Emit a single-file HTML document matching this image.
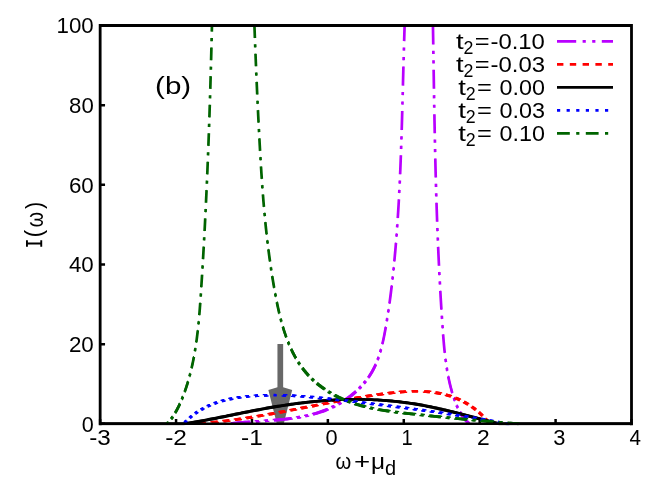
<!DOCTYPE html>
<html><head><meta charset="utf-8"><title>plot</title>
<style>html,body{margin:0;padding:0;background:#fff}svg{display:block}svg{will-change:transform}text{font-family:"Liberation Sans",sans-serif;fill:#000}</style></head><body>
<svg width="664" height="498" viewBox="0 0 664 498">
<rect width="664" height="498" fill="#fff"/>
<defs><clipPath id="c"><rect x="100.15" y="25.50" width="531.35" height="399.70"/></clipPath></defs>
<g fill="#686868"><rect x="277.45" y="344" width="5.7" height="46"/><path d="M277.45 387.3L268.40 390.1L276.90 424L283.70 424L292.20 390.1L283.15 387.3Z"/></g>
<path d="M100.15 423.80 v-4.9M176.06 423.80 v-4.9M251.96 423.80 v-4.9M327.87 423.80 v-4.9M403.78 423.80 v-4.9M479.69 423.80 v-4.9M555.59 423.80 v-4.9M631.50 423.80 v-4.9M100.15 423.80 h4.9M100.15 344.14 h4.9M100.15 264.48 h4.9M100.15 184.82 h4.9M100.15 105.16 h4.9M100.15 25.50 h4.9" stroke="#000" stroke-width="2.5" fill="none"/>
<g clip-path="url(#c)" fill="none" stroke-width="2.7">
<path d="M225.30 423.80L225.78 423.80L225.97 423.80M232.09 423.45L233.45 423.30L234.91 423.14L236.37 422.99L237.83 422.84L239.30 422.70L240.78 422.57L242.25 422.44L243.73 422.32L245.22 422.20L246.71 422.09L248.20 421.98L249.69 421.87L249.89 421.85M255.93 421.44L257.19 421.36L258.70 421.26L258.95 421.24M265.00 420.84L266.26 420.76L267.77 420.65L268.02 420.64M274.01 420.19L275.35 420.08L276.86 419.95L278.37 419.82L279.89 419.68L281.40 419.54L282.91 419.39L284.42 419.23L285.92 419.07L287.43 418.89L288.93 418.71L290.43 418.52L291.52 418.38M297.14 417.55L298.40 417.35L299.88 417.09L299.90 417.09M305.31 416.05L306.75 415.74L307.95 415.47M313.13 414.19L314.49 413.82L315.92 413.41L317.35 412.99L318.78 412.54L320.19 412.08L321.60 411.61L323.01 411.11L324.40 410.59L325.80 410.06L327.18 409.51L327.67 409.30M332.17 407.31L333.09 406.87L334.37 406.24M338.63 403.97L339.70 403.36L340.70 402.78M344.72 400.25L345.62 399.65L346.85 398.80L348.07 397.94L349.27 397.05L350.46 396.15L351.63 395.22L352.79 394.28L353.93 393.33L355.06 392.35L355.87 391.63M359.27 388.39L360.08 387.57L360.90 386.70M364.04 383.18L364.68 382.41L365.55 381.34M368.41 377.50L369.10 376.49L369.91 375.26L370.70 374.01L371.47 372.75L372.21 371.47L372.92 370.18L373.61 368.87L374.28 367.55L374.92 366.21L375.53 364.86L375.69 364.51M377.66 359.68L378.13 358.41L378.57 357.18M380.23 352.02L380.59 350.77L380.99 349.37M382.38 343.94L382.62 342.92L382.96 341.43L383.29 339.94L383.61 338.45L383.92 336.95L384.22 335.45L384.51 333.96L384.79 332.45L385.07 330.95L385.35 329.45L385.61 327.95L385.79 326.94M386.78 321.14L386.97 319.98L387.21 318.49L387.26 318.22M388.17 312.36L388.37 311.05L388.59 309.56L388.61 309.41M389.46 303.50L389.65 302.15L389.85 300.67L390.05 299.19L390.24 297.71L390.44 296.23L390.63 294.75L390.81 293.27L391.00 291.79L391.18 290.31L391.36 288.83L391.54 287.35L391.72 285.87L391.75 285.55M392.44 279.51L392.56 278.48L392.72 276.99L392.78 276.48M393.42 270.40L393.56 269.09L393.71 267.61L393.73 267.36M394.33 261.26L394.43 260.18L394.57 258.69L394.71 257.21L394.85 255.72L394.98 254.23L395.12 252.75L395.25 251.26L395.38 249.77L395.51 248.28L395.63 246.79L395.76 245.30L395.88 243.81L395.96 242.83M396.45 236.66L396.55 235.36L396.66 233.87L396.69 233.56M397.14 227.36L397.24 225.90L397.35 224.41L397.36 224.26M397.77 218.04L397.84 216.93L397.94 215.44L398.03 213.94L398.13 212.44L398.22 210.95L398.31 209.45L398.40 207.95L398.49 206.45L398.58 204.96L398.66 203.46L398.75 201.96L398.83 200.46L398.89 199.31M399.23 193.04L399.28 191.97L399.36 190.47L399.38 189.91M399.69 183.63L399.74 182.46L399.81 180.96L399.84 180.48M400.12 174.19L400.17 172.95L400.23 171.45L400.30 169.95L400.36 168.45L400.42 166.95L400.48 165.44L400.54 163.94L400.60 162.44L400.66 160.94L400.72 159.43L400.77 157.93L400.83 156.43L400.87 155.28M401.10 148.96L401.13 147.91L401.18 146.41L401.20 145.80M401.41 139.48L401.45 138.39L401.50 136.89L401.51 136.31M401.71 129.98L401.74 128.87L401.79 127.36L401.83 125.86L401.88 124.36L401.92 122.85L401.96 121.35L402.01 119.85L402.05 118.34L402.09 116.84L402.13 115.34L402.18 113.84L402.22 112.33L402.25 110.97M402.43 104.63L402.46 103.32L402.50 101.81L402.51 101.46M402.68 95.11L402.71 93.80L402.75 92.30L402.76 91.94M402.92 85.59L402.96 84.30L402.99 82.80L403.03 81.30L403.07 79.79L403.11 78.29L403.15 76.79L403.19 75.30L403.23 73.80L403.27 72.30L403.31 70.80L403.35 69.30L403.39 67.80L403.42 66.53M403.59 60.18L403.63 58.81L403.67 57.32L403.68 57.00M403.86 50.64L403.90 49.34L403.94 47.84L403.95 47.47M404.14 41.11L404.18 39.87L404.22 38.38L404.27 36.88L404.32 35.39L404.36 33.90L404.41 32.41L404.46 30.91L404.51 29.42L404.56 27.93L404.61 26.44L404.64 25.50" stroke="#b900ff"/>
<path d="M230.76 423.45L230.76 422.12L230.76 422.12L232.12 421.97L233.58 421.81L235.04 421.66L236.50 421.51L237.97 421.37L239.44 421.24L240.92 421.11L242.40 420.99L243.89 420.87L245.37 420.76L246.86 420.64L248.36 420.54L248.56 420.52L249.89 420.52L249.89 421.85L251.22 421.85L251.22 423.19L251.22 423.19L251.02 423.20L249.53 423.31L248.04 423.42L246.55 423.53L245.07 423.65L243.59 423.78L242.11 423.90L240.64 424.04L239.17 424.18L237.70 424.32L236.24 424.47L234.79 424.63L233.43 424.78L232.09 424.78L232.09 423.45ZM254.59 421.44L254.59 420.11L254.59 420.11L255.86 420.02L257.36 419.92L257.62 419.91L258.95 419.91L258.95 421.24L260.29 421.24L260.29 422.58L260.29 422.58L260.04 422.60L258.53 422.70L257.27 422.78L255.93 422.78L255.93 421.44ZM263.67 420.84L263.67 419.51L263.67 419.51L264.92 419.42L266.44 419.32L266.68 419.30L268.02 419.30L268.02 420.64L269.35 420.64L269.35 421.97L269.35 421.97L269.11 421.99L267.59 422.10L266.34 422.18L265.00 422.18L265.00 420.84ZM272.68 420.19L272.68 418.86L272.68 418.86L274.02 418.75L275.53 418.62L277.04 418.49L278.56 418.35L280.07 418.21L281.58 418.06L283.09 417.90L284.59 417.74L286.10 417.56L287.60 417.38L289.10 417.19L290.19 417.05L291.52 417.05L291.52 418.38L292.85 418.38L292.85 419.71L292.85 419.71L291.76 419.85L290.26 420.04L288.76 420.22L287.25 420.40L285.75 420.56L284.24 420.72L282.73 420.87L281.21 421.01L279.70 421.15L278.19 421.28L276.67 421.41L275.34 421.52L274.01 421.52L274.01 420.19ZM295.82 417.55L295.82 416.24L295.82 416.24L297.08 416.03L298.56 415.78L298.58 415.77L299.90 415.77L299.90 417.09L301.21 417.09L301.21 418.41L301.21 418.41L301.20 418.41L299.71 418.66L298.46 418.87L297.14 418.87L297.14 417.55ZM304.00 416.05L304.00 414.74L304.00 414.74L305.45 414.43L306.65 414.17L307.95 414.17L307.95 415.47L309.26 415.47L309.26 416.78L309.26 416.78L308.06 417.05L306.61 417.36L305.31 417.36L305.31 416.05ZM311.84 414.19L311.84 412.91L311.84 412.91L313.21 412.54L314.64 412.13L316.07 411.70L317.49 411.26L318.91 410.80L320.32 410.32L321.72 409.82L323.12 409.31L324.51 408.77L325.89 408.22L326.38 408.02L327.67 408.02L327.67 409.30L328.95 409.30L328.95 410.59L328.95 410.59L328.46 410.79L327.08 411.34L325.69 411.88L324.29 412.39L322.89 412.89L321.48 413.37L320.06 413.83L318.64 414.27L317.21 414.70L315.78 415.11L314.42 415.48L313.13 415.48L313.13 414.19ZM330.92 407.31L330.92 406.05L330.92 406.05L331.83 405.61L333.11 404.98L334.37 404.98L334.37 406.24L335.62 406.24L335.62 407.50L335.62 407.50L334.35 408.13L333.43 408.56L332.17 408.56L332.17 407.31ZM337.38 403.97L337.38 402.73L337.38 402.73L338.46 402.12L339.46 401.53L340.70 401.53L340.70 402.78L341.94 402.78L341.94 404.02L341.94 404.02L340.94 404.60L339.87 405.22L338.63 405.22L338.63 403.97ZM343.51 400.25L343.51 399.04L343.51 399.04L344.41 398.44L345.64 397.59L346.86 396.73L348.06 395.84L349.25 394.94L350.42 394.01L351.58 393.07L352.72 392.12L353.85 391.14L354.66 390.42L355.87 390.42L355.87 391.63L357.08 391.63L357.08 392.84L357.08 392.84L356.27 393.56L355.14 394.54L354.00 395.49L352.84 396.43L351.67 397.36L350.48 398.26L349.28 399.14L348.06 400.01L346.83 400.86L345.93 401.46L344.72 401.46L344.72 400.25ZM358.10 388.39L358.10 387.22L358.10 387.22L358.91 386.40L359.73 385.53L360.90 385.53L360.90 386.70L362.07 386.70L362.07 387.87L362.07 387.87L361.25 388.74L360.44 389.56L359.27 389.56L359.27 388.39ZM362.90 383.18L362.90 382.04L362.90 382.04L363.54 381.27L364.41 380.20L365.55 380.20L365.55 381.34L366.69 381.34L366.69 382.48L366.69 382.48L365.82 383.55L365.18 384.32L364.04 384.32L364.04 383.18ZM367.34 377.50L367.34 376.43L367.34 376.43L368.03 375.43L368.84 374.20L369.63 372.95L370.40 371.69L371.14 370.41L371.86 369.11L372.55 367.81L373.21 366.48L373.85 365.15L374.47 363.80L374.63 363.45L375.69 363.45L375.69 364.51L376.76 364.51L376.76 365.58L376.76 365.58L376.60 365.93L375.98 367.28L375.34 368.62L374.68 369.94L373.99 371.25L373.27 372.54L372.53 373.82L371.77 375.08L370.98 376.33L370.16 377.56L369.47 378.56L368.41 378.56L368.41 377.50ZM376.71 359.68L376.71 358.73L376.71 358.73L377.18 357.46L377.61 356.23L378.57 356.23L378.57 357.18L379.52 357.18L379.52 358.14L379.52 358.14L379.09 359.36L378.62 360.64L377.66 360.64L377.66 359.68ZM379.34 352.02L379.34 351.14L379.34 351.14L379.71 349.88L380.10 348.49L380.99 348.49L380.99 349.37L381.87 349.37L381.87 350.26L381.87 350.26L381.48 351.65L381.11 352.91L380.23 352.91L380.23 352.02ZM381.60 343.94L381.60 343.17L381.60 343.17L381.85 342.15L382.19 340.66L382.51 339.17L382.83 337.68L383.14 336.18L383.44 334.68L383.74 333.18L384.02 331.68L384.30 330.18L384.57 328.68L384.84 327.18L385.02 326.17L385.79 326.17L385.79 326.94L386.56 326.94L386.56 327.71L386.56 327.71L386.39 328.73L386.12 330.23L385.85 331.73L385.57 333.23L385.28 334.73L384.99 336.23L384.69 337.73L384.38 339.22L384.06 340.72L383.73 342.21L383.39 343.69L383.15 344.72L382.38 344.72L382.38 343.94ZM386.08 321.14L386.08 320.44L386.08 320.44L386.27 319.27L386.51 317.78L386.55 317.52L387.26 317.52L387.26 318.22L387.96 318.22L387.96 318.93L387.96 318.93L387.92 319.19L387.67 320.68L387.48 321.84L386.78 321.84L386.78 321.14ZM387.50 312.36L387.50 311.69L387.50 311.69L387.70 310.37L387.92 308.89L387.94 308.74L388.61 308.74L388.61 309.41L389.29 309.41L389.29 310.09L389.29 310.09L389.27 310.24L389.04 311.72L388.85 313.03L388.17 313.03L388.17 312.36ZM388.84 303.50L388.84 302.87L388.84 302.87L389.03 301.53L389.23 300.05L389.43 298.57L389.62 297.09L389.82 295.61L390.01 294.13L390.19 292.65L390.38 291.17L390.56 289.69L390.74 288.21L390.92 286.73L391.09 285.25L391.13 284.92L391.75 284.92L391.75 285.55L392.37 285.55L392.37 286.17L392.37 286.17L392.34 286.49L392.16 287.97L391.98 289.45L391.80 290.93L391.62 292.41L391.44 293.89L391.25 295.37L391.06 296.85L390.86 298.33L390.67 299.81L390.47 301.29L390.27 302.77L390.08 304.12L389.46 304.12L389.46 303.50ZM391.87 279.51L391.87 278.93L391.87 278.93L391.99 277.90L392.15 276.42L392.21 275.91L392.78 275.91L392.78 276.48L393.35 276.48L393.35 277.05L393.35 277.05L393.29 277.57L393.13 279.05L393.02 280.08L392.44 280.08L392.44 279.51ZM392.88 270.40L392.88 269.86L392.88 269.86L393.01 268.54L393.16 267.06L393.19 266.81L393.73 266.81L393.73 267.36L394.28 267.36L394.28 267.91L394.28 267.91L394.25 268.15L394.10 269.64L393.97 270.95L393.42 270.95L393.42 270.40ZM393.83 261.26L393.83 260.76L393.83 260.76L393.93 259.68L394.07 258.19L394.21 256.71L394.35 255.22L394.48 253.73L394.62 252.24L394.75 250.76L394.88 249.27L395.01 247.78L395.13 246.29L395.26 244.80L395.38 243.31L395.46 242.33L395.96 242.33L395.96 242.83L396.46 242.83L396.46 243.33L396.46 243.33L396.38 244.31L396.26 245.80L396.13 247.29L396.01 248.78L395.88 250.27L395.75 251.76L395.62 253.25L395.48 254.73L395.35 256.22L395.21 257.71L395.07 259.20L394.93 260.68L394.83 261.76L394.33 261.76L394.33 261.26ZM396.00 236.66L396.00 236.20L396.00 236.20L396.10 234.91L396.21 233.41L396.23 233.11L396.69 233.11L396.69 233.56L397.14 233.56L397.14 234.02L397.14 234.02L397.12 234.32L397.00 235.81L396.91 237.11L396.45 237.11L396.45 236.66ZM396.71 227.36L396.71 226.93L396.71 226.93L396.81 225.47L396.92 223.98L396.93 223.83L397.36 223.83L397.36 224.26L397.79 224.26L397.79 224.69L397.79 224.69L397.77 224.84L397.67 226.33L397.57 227.79L397.14 227.79L397.14 227.36ZM397.39 218.04L397.39 217.65L397.39 217.65L397.46 216.55L397.56 215.05L397.65 213.55L397.74 212.06L397.84 210.56L397.93 209.06L398.02 207.57L398.10 206.07L398.19 204.57L398.28 203.07L398.36 201.57L398.44 200.08L398.51 198.92L398.89 198.92L398.89 199.31L399.28 199.31L399.28 199.69L399.28 199.69L399.21 200.85L399.13 202.34L399.05 203.84L398.96 205.34L398.87 206.84L398.78 208.34L398.70 209.83L398.60 211.33L398.51 212.83L398.42 214.32L398.32 215.82L398.23 217.32L398.16 218.42L397.77 218.42L397.77 218.04ZM398.88 193.04L398.88 192.70L398.88 192.70L398.94 191.62L399.01 190.12L399.04 189.56L399.38 189.56L399.38 189.91L399.73 189.91L399.73 190.25L399.73 190.25L399.70 190.81L399.62 192.31L399.57 193.38L399.23 193.38L399.23 193.04ZM399.37 183.63L399.37 183.31L399.37 183.31L399.43 182.14L399.49 180.64L399.52 180.16L399.84 180.16L399.84 180.48L400.16 180.48L400.16 180.80L400.16 180.80L400.13 181.28L400.06 182.78L400.01 183.95L399.69 183.95L399.69 183.63ZM399.83 174.19L399.83 173.91L399.83 173.91L399.89 172.67L399.95 171.17L400.01 169.67L400.08 168.16L400.14 166.66L400.20 165.16L400.26 163.66L400.32 162.16L400.37 160.65L400.43 159.15L400.49 157.65L400.55 156.14L400.59 155.00L400.87 155.00L400.87 155.28L401.15 155.28L401.15 155.56L401.15 155.56L401.11 156.71L401.06 158.21L401.00 159.72L400.94 161.22L400.88 162.72L400.82 164.22L400.76 165.73L400.70 167.23L400.64 168.73L400.58 170.23L400.52 171.74L400.45 173.24L400.40 174.48L400.12 174.48L400.12 174.19ZM400.84 148.96L400.84 148.71L400.84 148.71L400.88 147.66L400.93 146.16L400.95 145.55L401.20 145.55L401.20 145.80L401.46 145.80L401.46 146.05L401.46 146.05L401.44 146.66L401.38 148.16L401.35 149.21L401.10 149.21L401.10 148.96ZM401.18 139.48L401.18 139.24L401.18 139.24L401.21 138.15L401.26 136.65L401.28 136.08L401.51 136.08L401.51 136.31L401.75 136.31L401.75 136.55L401.75 136.55L401.73 137.12L401.69 138.63L401.65 139.71L401.41 139.71L401.41 139.48ZM401.49 129.98L401.49 129.77L401.49 129.77L401.53 128.65L401.57 127.15L401.62 125.64L401.66 124.14L401.70 122.64L401.75 121.13L401.79 119.63L401.83 118.13L401.88 116.63L401.92 115.12L401.96 113.62L402.00 112.12L402.04 110.76L402.25 110.76L402.25 110.97L402.47 110.97L402.47 111.19L402.47 111.19L402.43 112.55L402.39 114.05L402.35 115.55L402.31 117.06L402.27 118.56L402.22 120.06L402.18 121.57L402.14 123.07L402.09 124.57L402.05 126.08L402.01 127.58L401.96 129.08L401.93 130.20L401.71 130.20L401.71 129.98ZM402.22 104.63L402.22 104.43L402.22 104.43L402.26 103.11L402.30 101.61L402.31 101.25L402.51 101.25L402.51 101.46L402.71 101.46L402.71 101.66L402.71 101.66L402.70 102.02L402.66 103.52L402.63 104.83L402.43 104.83L402.43 104.63ZM402.48 95.11L402.48 94.91L402.48 94.91L402.51 93.60L402.55 92.10L402.56 91.74L402.76 91.74L402.76 91.94L402.96 91.94L402.96 92.14L402.96 92.14L402.95 92.50L402.91 94.00L402.88 95.31L402.68 95.31L402.68 95.11ZM402.72 85.59L402.72 85.39L402.72 85.39L402.76 84.10L402.79 82.60L402.83 81.09L402.87 79.59L402.91 78.09L402.95 76.59L402.99 75.09L403.03 73.60L403.07 72.10L403.11 70.60L403.15 69.10L403.19 67.60L403.22 66.33L403.42 66.33L403.42 66.53L403.62 66.53L403.62 66.73L403.62 66.73L403.59 68.00L403.55 69.50L403.51 71.00L403.47 72.50L403.43 74.00L403.39 75.50L403.35 77.00L403.31 78.50L403.27 80.00L403.23 81.50L403.20 83.00L403.16 84.50L403.12 85.79L402.92 85.79L402.92 85.59ZM403.38 60.18L403.38 59.97L403.38 59.97L403.42 58.60L403.46 57.11L403.47 56.79L403.68 56.79L403.68 57.00L403.89 57.00L403.89 57.21L403.89 57.21L403.88 57.52L403.84 59.02L403.80 60.38L403.59 60.38L403.59 60.18ZM403.64 50.64L403.64 50.42L403.64 50.42L403.68 49.12L403.72 47.62L403.73 47.25L403.95 47.25L403.95 47.47L404.17 47.47L404.17 47.68L404.17 47.68L404.16 48.06L404.11 49.55L404.08 50.86L403.86 50.86L403.86 50.64ZM403.90 41.11L403.90 40.87L403.90 40.87L403.94 39.63L403.99 38.14L404.03 36.64L404.08 35.15L404.13 33.66L404.17 32.17L404.22 30.68L404.27 29.18L404.32 27.69L404.37 26.20L404.40 25.26L404.64 25.26L404.64 25.50L404.88 25.50L404.88 25.74L404.88 25.74L404.85 26.68L404.80 28.17L404.75 29.66L404.70 31.15L404.65 32.64L404.60 34.14L404.55 35.63L404.51 37.12L404.46 38.61L404.42 40.11L404.38 41.35L404.14 41.35L404.14 41.11Z" fill="#b900ff" stroke="none"/>
<path d="M432.95 25.50L432.96 26.52L432.99 28.03L433.01 29.53L433.04 31.04L433.06 32.54L433.08 34.05L433.11 35.55L433.13 37.06L433.16 38.56L433.18 40.07L433.20 41.57L433.23 43.08L433.25 44.48M433.35 50.81L433.37 52.10L433.39 53.60L433.40 53.98M433.50 60.31L433.52 61.61L433.54 63.12L433.54 63.48M433.64 69.82L433.66 71.12L433.69 72.62L433.71 74.12L433.74 75.62L433.76 77.12L433.78 78.62L433.81 80.12L433.83 81.62L433.86 83.12L433.88 84.62L433.90 86.12L433.93 87.62L433.95 88.82M434.05 95.15L434.08 96.62L434.10 98.12L434.11 98.32M434.21 104.66L434.24 106.11L434.27 107.60L434.27 107.82M434.38 114.16L434.41 115.59L434.44 117.09L434.46 118.58L434.49 120.08L434.52 121.58L434.55 123.07L434.58 124.57L434.61 126.07L434.63 127.57L434.66 129.06L434.69 130.56L434.72 132.05L434.74 133.16M434.87 139.49L434.90 140.53L434.93 142.03L434.94 142.66M435.08 148.99L435.10 150.01L435.13 151.50L435.15 152.15M435.29 158.48L435.33 159.98L435.36 161.47L435.40 162.97L435.44 164.47L435.47 165.96L435.51 167.46L435.55 168.95L435.58 170.45L435.62 171.94L435.66 173.44L435.70 174.93L435.74 176.43L435.77 177.47M435.94 183.79L435.97 184.90L436.01 186.40L436.03 186.95M436.21 193.27L436.24 194.38L436.29 195.87L436.31 196.43M436.50 202.75L436.54 203.85L436.58 205.34L436.63 206.84L436.68 208.34L436.73 209.83L436.78 211.33L436.83 212.82L436.88 214.32L436.93 215.82L436.99 217.31L437.04 218.81L437.09 220.31L437.14 221.68M437.37 227.99L437.42 229.29L437.48 230.78L437.49 231.14M437.74 237.44L437.80 238.77L437.86 240.26L437.87 240.59M438.13 246.89L438.19 248.25L438.26 249.75L438.32 251.25L438.39 252.75L438.45 254.25L438.52 255.74L438.59 257.24L438.66 258.74L438.73 260.24L438.80 261.74L438.87 263.24L438.94 264.74L438.99 265.74M439.30 272.02L439.36 273.24L439.44 274.74L439.46 275.15M439.78 281.42L439.86 282.74L439.94 284.24L439.95 284.55M440.30 290.81L440.38 292.25L440.47 293.75L440.55 295.25L440.64 296.76L440.73 298.26L440.82 299.76L440.91 301.27L441.00 302.77L441.09 304.27L441.18 305.78L441.28 307.28L441.37 308.78L441.42 309.55M441.82 315.78L441.89 316.81L441.99 318.31L442.02 318.90M442.45 325.12L442.53 326.35L442.64 327.85L442.66 328.23M443.11 334.43L443.22 335.89L443.34 337.39L443.46 338.90L443.58 340.41L443.71 341.91L443.84 343.41L443.97 344.92L444.11 346.42L444.25 347.92L444.40 349.42L444.55 350.92L444.71 352.42L444.76 352.86M445.46 358.89L445.65 360.38L445.85 361.86L445.85 361.88M446.72 367.78L446.88 368.78L447.12 370.25L447.20 370.69M448.25 376.43L448.48 377.58L448.79 379.04L449.10 380.50L449.42 381.95L449.76 383.40L450.10 384.84L450.46 386.29L450.83 387.72L451.22 389.16L451.61 390.59L452.02 392.02L452.27 392.85M453.91 398.03L454.27 399.09L454.76 400.49L454.78 400.56M456.68 405.46L457.11 406.48L457.71 407.82M460.00 412.30L460.69 413.49L461.48 414.74L462.30 415.96L463.16 417.16L464.07 418.34L465.02 419.48L466.03 420.59L467.08 421.66L468.19 422.71L468.94 423.36" stroke="#b900ff"/>
<path d="M432.82 25.50L432.82 25.63L432.82 25.63L432.84 26.65L432.86 28.15L432.88 29.66L432.91 31.17L432.93 32.67L432.96 34.18L432.98 35.68L433.00 37.19L433.03 38.69L433.05 40.20L433.07 41.70L433.10 43.21L433.12 44.61L433.25 44.61L433.25 44.48L433.38 44.48L433.38 44.35L433.38 44.35L433.36 42.95L433.33 41.44L433.31 39.94L433.29 38.43L433.26 36.93L433.24 35.42L433.21 33.92L433.19 32.41L433.17 30.91L433.14 29.40L433.12 27.90L433.09 26.39L433.08 25.37L432.95 25.37L432.95 25.50ZM433.22 50.81L433.22 50.94L433.22 50.94L433.24 52.22L433.26 53.73L433.27 54.11L433.40 54.11L433.40 53.98L433.52 53.98L433.52 53.85L433.52 53.85L433.52 53.47L433.49 51.97L433.47 50.69L433.35 50.69L433.35 50.81ZM433.37 60.31L433.37 60.44L433.37 60.44L433.39 61.74L433.41 63.24L433.42 63.61L433.54 63.61L433.54 63.48L433.67 63.48L433.67 63.35L433.67 63.35L433.67 62.99L433.64 61.49L433.62 60.19L433.50 60.19L433.50 60.31ZM433.51 69.82L433.51 69.95L433.51 69.95L433.53 71.25L433.56 72.75L433.58 74.25L433.61 75.75L433.63 77.25L433.65 78.75L433.68 80.25L433.70 81.75L433.73 83.25L433.75 84.75L433.77 86.25L433.80 87.75L433.82 88.95L433.95 88.95L433.95 88.82L434.08 88.82L434.08 88.69L434.08 88.69L434.06 87.49L434.03 85.99L434.01 84.49L433.99 82.99L433.96 81.49L433.94 79.99L433.91 78.49L433.89 76.99L433.87 75.49L433.84 73.99L433.82 72.49L433.79 70.99L433.77 69.69L433.64 69.69L433.64 69.82ZM433.92 95.15L433.92 95.29L433.92 95.29L433.94 96.75L433.97 98.25L433.97 98.46L434.11 98.46L434.11 98.32L434.24 98.32L434.24 98.19L434.24 98.19L434.24 97.98L434.21 96.48L434.19 95.02L434.05 95.02L434.05 95.15ZM434.07 104.66L434.07 104.80L434.07 104.80L434.10 106.25L434.12 107.74L434.13 107.97L434.27 107.97L434.27 107.82L434.41 107.82L434.41 107.68L434.41 107.68L434.41 107.46L434.38 105.96L434.36 104.52L434.21 104.52L434.21 104.66ZM434.23 114.16L434.23 114.31L434.23 114.31L434.26 115.74L434.28 117.24L434.31 118.74L434.34 120.23L434.37 121.73L434.40 123.23L434.42 124.72L434.45 126.22L434.48 127.72L434.51 129.21L434.54 130.71L434.57 132.21L434.59 133.31L434.74 133.31L434.74 133.16L434.90 133.16L434.90 133.01L434.90 133.01L434.87 131.90L434.84 130.41L434.82 128.91L434.79 127.41L434.76 125.92L434.73 124.42L434.70 122.92L434.67 121.43L434.64 119.93L434.62 118.43L434.59 116.93L434.56 115.44L434.53 114.01L434.38 114.01L434.38 114.16ZM434.71 139.49L434.71 139.66L434.71 139.66L434.73 140.70L434.76 142.20L434.77 142.82L434.94 142.82L434.94 142.66L435.11 142.66L435.11 142.49L435.11 142.49L435.09 141.86L435.06 140.37L435.04 139.33L434.87 139.33L434.87 139.49ZM434.90 148.99L434.90 149.16L434.90 149.16L434.92 150.18L434.96 151.68L434.97 152.33L435.15 152.33L435.15 152.15L435.32 152.15L435.32 151.98L435.32 151.98L435.31 151.33L435.27 149.83L435.25 148.81L435.08 148.81L435.08 148.99ZM435.10 158.48L435.10 158.68L435.10 158.68L435.14 160.17L435.17 161.67L435.21 163.16L435.24 164.66L435.28 166.15L435.32 167.65L435.35 169.14L435.39 170.64L435.43 172.14L435.47 173.63L435.51 175.13L435.55 176.62L435.57 177.66L435.77 177.66L435.77 177.47L435.96 177.47L435.96 177.27L435.96 177.27L435.93 176.24L435.89 174.74L435.85 173.25L435.82 171.75L435.78 170.25L435.74 168.76L435.70 167.26L435.67 165.77L435.63 164.27L435.59 162.78L435.56 161.28L435.52 159.79L435.49 158.29L435.29 158.29L435.29 158.48ZM435.73 183.79L435.73 184.00L435.73 184.00L435.76 185.12L435.80 186.61L435.81 187.16L436.03 187.16L436.03 186.95L436.24 186.95L436.24 186.74L436.24 186.74L436.23 186.19L436.18 184.69L436.15 183.58L435.94 183.58L435.94 183.79ZM435.99 193.27L435.99 193.50L435.99 193.50L436.02 194.60L436.06 196.10L436.08 196.66L436.31 196.66L436.31 196.43L436.53 196.43L436.53 196.21L436.53 196.21L436.51 195.65L436.47 194.15L436.44 193.05L436.21 193.05L436.21 193.27ZM436.25 202.75L436.25 203.00L436.25 203.00L436.29 204.10L436.34 205.59L436.38 207.09L436.43 208.58L436.48 210.08L436.53 211.58L436.58 213.07L436.63 214.57L436.69 216.06L436.74 217.56L436.79 219.06L436.84 220.55L436.89 221.93L437.14 221.93L437.14 221.68L437.39 221.68L437.39 221.44L437.39 221.44L437.34 220.06L437.29 218.56L437.24 217.06L437.18 215.57L437.13 214.07L437.08 212.58L437.03 211.08L436.98 209.58L436.93 208.09L436.88 206.59L436.83 205.10L436.79 203.60L436.75 202.50L436.50 202.50L436.50 202.75ZM437.10 227.99L437.10 228.26L437.10 228.26L437.15 229.56L437.21 231.05L437.22 231.41L437.49 231.41L437.49 231.14L437.77 231.14L437.77 230.87L437.77 230.87L437.75 230.51L437.70 229.01L437.65 227.72L437.37 227.72L437.37 227.99ZM437.45 237.44L437.45 237.73L437.45 237.73L437.51 239.05L437.57 240.55L437.58 240.88L437.87 240.88L437.87 240.59L438.16 240.59L438.16 240.30L438.16 240.30L438.14 239.98L438.08 238.48L438.03 237.15L437.74 237.15L437.74 237.44ZM437.82 246.89L437.82 247.20L437.82 247.20L437.88 248.57L437.94 250.06L438.01 251.56L438.07 253.06L438.14 254.56L438.21 256.06L438.28 257.56L438.35 259.06L438.41 260.55L438.48 262.05L438.56 263.55L438.63 265.05L438.68 266.06L438.99 266.06L438.99 265.74L439.30 265.74L439.30 265.43L439.30 265.43L439.25 264.42L439.18 262.92L439.11 261.43L439.04 259.93L438.97 258.43L438.90 256.93L438.84 255.43L438.77 253.93L438.70 252.43L438.64 250.93L438.57 249.44L438.51 247.94L438.45 246.57L438.13 246.57L438.13 246.89ZM438.96 272.02L438.96 272.36L438.96 272.36L439.02 273.58L439.09 275.08L439.12 275.50L439.46 275.50L439.46 275.15L439.80 275.15L439.80 274.81L439.80 274.81L439.78 274.39L439.70 272.89L439.64 271.68L439.30 271.68L439.30 272.02ZM439.43 281.42L439.43 281.78L439.43 281.78L439.50 283.10L439.58 284.60L439.60 284.91L439.95 284.91L439.95 284.55L440.31 284.55L440.31 284.20L440.31 284.20L440.29 283.88L440.21 282.38L440.14 281.07L439.78 281.07L439.78 281.42ZM439.92 290.81L439.92 291.20L439.92 291.20L440.00 292.63L440.08 294.14L440.17 295.64L440.26 297.14L440.35 298.64L440.43 300.15L440.52 301.65L440.61 303.15L440.71 304.66L440.80 306.16L440.89 307.66L440.99 309.17L441.03 309.94L441.42 309.94L441.42 309.55L441.80 309.55L441.80 309.17L441.80 309.17L441.75 308.40L441.66 306.90L441.57 305.39L441.47 303.89L441.38 302.38L441.29 300.88L441.20 299.38L441.11 297.88L441.03 296.37L440.94 294.87L440.85 293.37L440.77 291.87L440.68 290.43L440.30 290.43L440.30 290.81ZM441.41 315.78L441.41 316.20L441.41 316.20L441.47 317.22L441.57 318.73L441.61 319.31L442.02 319.31L442.02 318.90L442.44 318.90L442.44 318.48L442.44 318.48L442.40 317.90L442.30 316.40L442.23 315.37L441.82 315.37L441.82 315.78ZM442.02 325.12L442.02 325.55L442.02 325.55L442.10 326.77L442.21 328.28L442.23 328.65L442.66 328.65L442.66 328.23L443.09 328.23L443.09 327.80L443.09 327.80L443.06 327.42L442.96 325.92L442.87 324.69L442.45 324.69L442.45 325.12ZM442.61 334.43L442.61 334.93L442.61 334.93L442.72 336.39L442.83 337.90L442.95 339.40L443.08 340.91L443.20 342.41L443.33 343.92L443.47 345.42L443.60 346.92L443.75 348.42L443.89 349.92L444.05 351.42L444.20 352.92L444.25 353.36L444.76 353.36L444.76 352.86L445.26 352.86L445.26 352.35L445.26 352.35L445.21 351.91L445.05 350.41L444.90 348.92L444.75 347.42L444.61 345.91L444.47 344.41L444.34 342.91L444.21 341.41L444.08 339.90L443.96 338.40L443.84 336.89L443.72 335.38L443.61 333.93L443.11 333.93L443.11 334.43ZM444.83 358.89L444.83 359.52L444.83 359.52L445.02 361.01L445.22 362.49L445.22 362.51L445.85 362.51L445.85 361.88L446.48 361.88L446.48 361.25L446.48 361.25L446.48 361.23L446.28 359.75L446.09 358.26L445.46 358.26L445.46 358.89ZM446.01 367.78L446.01 368.49L446.01 368.49L446.17 369.48L446.42 370.96L446.49 371.40L447.20 371.40L447.20 370.69L447.90 370.69L447.90 369.99L447.90 369.99L447.83 369.54L447.58 368.07L447.42 367.07L446.72 367.07L446.72 367.78ZM447.42 376.43L447.42 377.27L447.42 377.27L447.65 378.42L447.95 379.88L448.26 381.33L448.59 382.79L448.92 384.24L449.27 385.68L449.63 387.12L450.00 388.56L450.38 390.00L450.78 391.43L451.18 392.85L451.43 393.69L452.27 393.69L452.27 392.85L453.11 392.85L453.11 392.02L453.11 392.02L452.86 391.18L452.45 389.75L452.05 388.32L451.67 386.89L451.30 385.45L450.94 384.01L450.59 382.56L450.26 381.11L449.94 379.66L449.62 378.21L449.32 376.75L449.09 375.60L448.25 375.60L448.25 376.43ZM452.96 398.03L452.96 398.97L452.96 398.97L453.33 400.03L453.82 401.44L453.84 401.50L454.78 401.50L454.78 400.56L455.73 400.56L455.73 399.61L455.73 399.61L455.70 399.55L455.21 398.15L454.85 397.09L453.91 397.09L453.91 398.03ZM455.67 405.46L455.67 406.47L455.67 406.47L456.11 407.49L456.71 408.82L457.71 408.82L457.71 407.82L458.72 407.82L458.72 406.81L458.72 406.81L458.12 405.47L457.68 404.45L456.68 404.45L456.68 405.46ZM458.86 412.30L458.86 413.43L458.86 413.43L459.56 414.63L460.34 415.88L461.16 417.10L462.02 418.30L462.93 419.47L463.88 420.62L464.89 421.73L465.94 422.80L467.05 423.85L467.80 424.50L468.94 424.50L468.94 423.36L470.08 423.36L470.08 422.22L470.08 422.22L469.33 421.57L468.22 420.53L467.17 419.45L466.16 418.34L465.21 417.20L464.30 416.03L463.44 414.83L462.61 413.60L461.83 412.35L461.13 411.16L460.00 411.16L460.00 412.30Z" fill="#b900ff" stroke="none"/>
<path d="M199.79 423.45L201.32 423.34L202.84 423.22L204.36 423.09L205.72 422.98M211.71 422.43L212.94 422.31L214.45 422.16L215.96 422.00L217.47 421.84L217.63 421.82M223.49 421.16L224.98 420.98L226.48 420.79L227.97 420.61L229.30 420.44M235.05 419.67L236.43 419.48L237.91 419.27L239.40 419.06L240.75 418.86M246.41 418.01L247.81 417.80L249.29 417.57L250.77 417.33L252.03 417.13M257.61 416.22L258.64 416.04L260.11 415.80L261.59 415.54L263.06 415.29L263.15 415.27M268.67 414.31L269.92 414.08L271.39 413.82L272.86 413.56L274.16 413.32M279.63 412.31L280.68 412.12L282.14 411.85L283.61 411.57L285.07 411.29M290.50 410.26L291.91 409.99L293.37 409.71L294.83 409.43L295.92 409.22M301.32 408.18L302.64 407.92L304.10 407.64L305.57 407.36L306.71 407.13M312.10 406.09L313.38 405.84L314.84 405.56L316.31 405.28L317.48 405.05M322.87 404.01L324.13 403.77L325.59 403.49L327.06 403.21L328.26 402.99M333.65 401.98L334.90 401.74L336.37 401.47L337.85 401.20L339.05 400.98M344.46 400.00L345.71 399.78L347.19 399.52L348.67 399.26L349.89 399.05M355.33 398.11L356.57 397.91L358.06 397.66L359.54 397.41L360.79 397.21M366.28 396.34L367.49 396.15L368.98 395.92L370.48 395.69L371.79 395.50M377.33 394.69L378.47 394.53L379.98 394.32L381.48 394.12L382.90 393.93M388.51 393.22L389.53 393.10L391.04 392.92L392.55 392.76L394.07 392.59L394.19 392.58M399.96 392.04L401.12 391.95L402.63 391.83L404.14 391.73L405.65 391.63L405.84 391.62M411.87 391.36L413.16 391.34L414.66 391.31L416.16 391.30L417.65 391.31L418.08 391.31M424.17 391.51L425.57 391.59L427.05 391.70L428.52 391.82L429.99 391.96L429.99 391.96M435.56 392.66L436.78 392.85L438.23 393.10L439.67 393.37L440.88 393.62M445.97 394.82L447.25 395.18L448.66 395.59L450.06 396.03L450.81 396.27M455.44 397.96L456.50 398.39L457.86 398.97L459.22 399.57L459.85 399.87M464.07 401.99L464.97 402.49L466.27 403.23L467.56 404.00L468.09 404.32M471.94 406.85L473.02 407.61L474.24 408.51L475.45 409.44L475.61 409.57M479.10 412.48L480.13 413.40L481.26 414.45L482.37 415.52L482.43 415.58M485.57 418.88L486.29 419.68L487.32 420.88L488.33 422.09L488.55 422.37" stroke="#ff0000"/>
<path d="M198.46 423.45L198.46 422.12L198.46 422.12L199.98 422.00L201.51 421.88L203.03 421.76L204.38 421.65L205.72 421.65L205.72 422.98L207.05 422.98L207.05 424.31L207.05 424.31L205.69 424.43L204.17 424.55L202.65 424.67L201.13 424.79L199.79 424.79L199.79 423.45ZM210.38 422.43L210.38 421.10L210.38 421.10L211.62 420.98L213.12 420.83L214.63 420.67L216.14 420.51L216.30 420.49L217.63 420.49L217.63 421.82L218.96 421.82L218.96 423.15L218.96 423.15L218.80 423.17L217.29 423.33L215.78 423.49L214.27 423.64L213.04 423.76L211.71 423.76L211.71 422.43ZM222.17 421.16L222.17 419.83L222.17 419.83L223.65 419.65L225.15 419.47L226.65 419.28L227.97 419.11L229.30 419.11L229.30 420.44L230.62 420.44L230.62 421.76L230.62 421.76L229.30 421.93L227.80 422.12L226.30 422.30L224.82 422.48L223.49 422.48L223.49 421.16ZM233.73 419.67L233.73 418.35L233.73 418.35L235.11 418.16L236.59 417.95L238.08 417.74L239.43 417.54L240.75 417.54L240.75 418.86L242.07 418.86L242.07 420.18L242.07 420.18L240.72 420.38L239.24 420.59L237.75 420.80L236.37 420.99L235.05 420.99L235.05 419.67ZM245.09 418.01L245.09 416.70L245.09 416.70L246.49 416.48L247.97 416.25L249.45 416.01L250.71 415.81L252.03 415.81L252.03 417.13L253.35 417.13L253.35 418.45L253.35 418.45L252.08 418.65L250.61 418.89L249.13 419.12L247.73 419.33L246.41 419.33L246.41 418.01ZM256.29 416.22L256.29 414.90L256.29 414.90L257.32 414.73L258.80 414.48L260.27 414.23L261.74 413.97L261.84 413.96L263.15 413.96L263.15 415.27L264.47 415.27L264.47 416.59L264.47 416.59L264.37 416.61L262.90 416.86L261.43 417.11L259.95 417.36L258.92 417.53L257.61 417.53L257.61 416.22ZM267.36 414.31L267.36 412.99L267.36 412.99L268.60 412.77L270.07 412.51L271.54 412.24L272.85 412.01L274.16 412.01L274.16 413.32L275.48 413.32L275.48 414.63L275.48 414.63L274.17 414.87L272.70 415.14L271.23 415.40L269.98 415.62L268.67 415.62L268.67 414.31ZM278.31 412.31L278.31 411.00L278.31 411.00L279.37 410.81L280.83 410.53L282.30 410.26L283.76 409.98L285.07 409.98L285.07 411.29L286.39 411.29L286.39 412.61L286.39 412.61L284.92 412.88L283.46 413.16L281.99 413.43L280.94 413.63L279.63 413.63L279.63 412.31ZM289.19 410.26L289.19 408.95L289.19 408.95L290.60 408.68L292.06 408.40L293.52 408.12L294.60 407.91L295.92 407.91L295.92 409.22L297.23 409.22L297.23 410.54L297.23 410.54L296.15 410.74L294.68 411.03L293.22 411.31L291.81 411.58L290.50 411.58L290.50 410.26ZM300.01 408.18L300.01 406.87L300.01 406.87L301.33 406.61L302.79 406.33L304.26 406.04L305.40 405.82L306.71 405.82L306.71 407.13L308.02 407.13L308.02 408.45L308.02 408.45L306.88 408.67L305.42 408.95L303.95 409.24L302.63 409.49L301.32 409.49L301.32 408.18ZM310.79 406.09L310.79 404.78L310.79 404.78L312.06 404.53L313.53 404.25L314.99 403.96L316.17 403.74L317.48 403.74L317.48 405.05L318.80 405.05L318.80 406.36L318.80 406.36L317.62 406.59L316.15 406.87L314.69 407.15L313.41 407.40L312.10 407.40L312.10 406.09ZM321.56 404.01L321.56 402.70L321.56 402.70L322.81 402.46L324.28 402.18L325.75 401.90L326.94 401.68L328.26 401.68L328.26 402.99L329.57 402.99L329.57 404.30L329.57 404.30L328.38 404.53L326.91 404.81L325.44 405.09L324.18 405.33L322.87 405.33L322.87 404.01ZM332.33 401.98L332.33 400.66L332.33 400.66L333.59 400.43L335.06 400.16L336.53 399.89L337.74 399.67L339.05 399.67L339.05 400.98L340.36 400.98L340.36 402.29L340.36 402.29L339.16 402.51L337.69 402.78L336.22 403.06L334.96 403.29L333.65 403.29L333.65 401.98ZM343.15 400.00L343.15 398.69L343.15 398.69L344.40 398.46L345.88 398.20L347.36 397.94L348.57 397.73L349.89 397.73L349.89 399.05L351.20 399.05L351.20 400.36L351.20 400.36L349.99 400.57L348.51 400.83L347.03 401.09L345.78 401.32L344.46 401.32L344.46 400.00ZM354.01 398.11L354.01 396.80L354.01 396.80L355.26 396.59L356.74 396.34L358.23 396.10L359.47 395.89L360.79 395.89L360.79 397.21L362.11 397.21L362.11 398.53L362.11 398.53L360.86 398.73L359.38 398.98L357.89 399.22L356.65 399.43L355.33 399.43L355.33 398.11ZM364.96 396.34L364.96 395.02L364.96 395.02L366.17 394.83L367.66 394.60L369.16 394.37L370.47 394.18L371.79 394.18L371.79 395.50L373.11 395.50L373.11 396.82L373.11 396.82L371.80 397.01L370.30 397.24L368.81 397.47L367.60 397.66L366.28 397.66L366.28 396.34ZM376.00 394.69L376.00 393.37L376.00 393.37L377.15 393.21L378.65 393.00L380.16 392.80L381.58 392.61L382.90 392.61L382.90 393.93L384.22 393.93L384.22 395.25L384.22 395.25L382.81 395.44L381.30 395.65L379.80 395.86L378.65 396.02L377.33 396.02L377.33 394.69ZM387.19 393.22L387.19 391.89L387.19 391.89L388.20 391.77L389.71 391.60L391.23 391.43L392.74 391.27L392.87 391.25L394.19 391.25L394.19 392.58L395.52 392.58L395.52 393.91L395.52 393.91L395.39 393.92L393.88 394.08L392.37 394.25L390.86 394.43L389.84 394.55L388.51 394.55L388.51 393.22ZM398.62 392.04L398.62 390.70L398.62 390.70L399.78 390.61L401.29 390.50L402.80 390.39L404.31 390.30L404.50 390.29L405.84 390.29L405.84 391.62L407.18 391.62L407.18 392.96L407.18 392.96L406.98 392.97L405.47 393.06L403.96 393.17L402.45 393.28L401.29 393.38L399.96 393.38L399.96 392.04ZM410.92 391.36L410.92 390.41L410.92 390.41L412.21 390.38L413.71 390.36L415.20 390.35L416.16 390.35L416.16 391.30L417.12 391.30L417.12 392.26L417.12 392.26L415.62 392.27L414.12 392.29L412.83 392.32L411.87 392.32L411.87 391.36ZM415.83 391.30L415.83 391.64L415.83 391.64L417.32 391.64L417.75 391.64L418.08 391.64L418.08 391.31L418.42 391.31L418.42 390.98L418.42 390.98L417.98 390.98L416.49 390.97L416.16 390.97L416.16 391.30ZM422.83 391.51L422.83 392.84L422.83 392.84L424.24 392.93L425.71 393.03L427.19 393.15L428.65 393.29L428.66 393.29L429.99 393.29L429.99 391.96L431.33 391.96L431.33 390.62L431.33 390.62L431.32 390.62L429.86 390.48L428.38 390.36L426.91 390.26L425.50 390.17L424.17 390.17L424.17 391.51ZM434.25 392.66L434.25 393.98L434.25 393.98L435.47 394.17L436.91 394.42L438.35 394.69L439.57 394.93L440.88 394.93L440.88 393.62L442.20 393.62L442.20 392.30L442.20 392.30L440.98 392.06L439.54 391.79L438.10 391.54L436.88 391.35L435.56 391.35L435.56 392.66ZM444.67 394.82L444.67 396.12L444.67 396.12L445.96 396.47L447.37 396.88L448.77 397.32L449.52 397.56L450.81 397.56L450.81 396.27L452.11 396.27L452.11 394.98L452.11 394.98L451.35 394.73L449.95 394.30L448.55 393.89L447.26 393.53L445.97 393.53L445.97 394.82ZM454.17 397.96L454.17 399.22L454.17 399.22L455.23 399.66L456.60 400.24L457.95 400.84L458.58 401.14L459.85 401.14L459.85 399.87L461.12 399.87L461.12 398.60L461.12 398.60L460.48 398.31L459.13 397.70L457.77 397.12L456.71 396.69L455.44 396.69L455.44 397.96ZM462.82 401.99L462.82 403.23L462.82 403.23L463.73 403.73L465.03 404.47L466.32 405.24L466.85 405.56L468.09 405.56L468.09 404.32L469.33 404.32L469.33 403.08L469.33 403.08L468.81 402.76L467.52 401.99L466.22 401.25L465.31 400.75L464.07 400.75L464.07 401.99ZM470.72 406.85L470.72 408.06L470.72 408.06L471.80 408.83L473.02 409.73L474.23 410.65L474.39 410.78L475.61 410.78L475.61 409.57L476.82 409.57L476.82 408.35L476.82 408.35L476.66 408.22L475.45 407.30L474.23 406.40L473.15 405.63L471.94 405.63L471.94 406.85ZM477.92 412.48L477.92 413.66L477.92 413.66L478.94 414.58L480.07 415.63L481.19 416.71L481.24 416.76L482.43 416.76L482.43 415.58L483.61 415.58L483.61 414.40L483.61 414.40L483.55 414.34L482.44 413.26L481.31 412.21L480.29 411.29L479.10 411.29L479.10 412.48ZM484.43 418.88L484.43 420.02L484.43 420.02L485.15 420.83L486.17 422.02L487.18 423.24L487.40 423.52L488.55 423.52L488.55 422.37L489.69 422.37L489.69 421.22L489.69 421.22L489.47 420.95L488.47 419.73L487.44 418.54L486.72 417.73L485.57 417.73L485.57 418.88Z" fill="#ff0000" stroke="none"/>
<path d="M100.51 423.80L102.05 423.80L103.59 423.80L105.12 423.80L106.65 423.80L108.18 423.80L109.71 423.80L111.24 423.80L112.77 423.80L114.29 423.80L115.81 423.80L117.33 423.80L118.85 423.80L120.37 423.80L121.88 423.80L123.40 423.80L124.91 423.80L126.42 423.80L127.94 423.80L129.44 423.80L130.95 423.80L132.46 423.80L133.96 423.80L135.47 423.80L136.97 423.80L138.47 423.80L139.97 423.80L141.47 423.80L142.97 423.80L144.46 423.80L145.96 423.80L147.45 423.80L148.95 423.80L150.44 423.80L151.93 423.80L153.42 423.80L154.91 423.80L156.40 423.80L157.88 423.80L159.37 423.80L160.86 423.80L162.34 423.80L163.82 423.80L165.31 423.80L166.79 423.80L168.27 423.80L169.75 423.80L171.23 423.80L172.71 423.80L174.19 423.80L175.66 423.80L177.14 423.80L178.62 423.80L180.09 423.80L181.57 423.80L183.04 423.80L184.52 423.72L185.99 423.50L187.46 423.28L188.93 423.05L190.41 422.82L191.88 422.58L193.35 422.34L194.82 422.09L196.29 421.84L197.76 421.59L199.23 421.33L200.70 421.07L202.17 420.81L203.64 420.54L205.11 420.27L206.57 420.00L208.04 419.72L209.51 419.45L210.98 419.17L212.45 418.88L213.91 418.60L215.38 418.31L216.85 418.02L218.32 417.73L219.78 417.44L221.25 417.15L222.72 416.86L224.19 416.56L225.66 416.26L227.12 415.97L228.59 415.67L230.06 415.37L231.53 415.07L233.00 414.78L234.47 414.48L235.94 414.18L237.40 413.88L238.87 413.58L240.34 413.29L241.81 412.99L243.29 412.70L244.76 412.40L246.23 412.11L247.70 411.82L249.17 411.53L250.65 411.24L252.12 410.95L253.59 410.67L255.07 410.38L256.54 410.10L258.02 409.82L259.49 409.55L260.97 409.27L262.45 409.00L263.93 408.73L265.40 408.47L266.88 408.20L268.36 407.94L269.84 407.68L271.32 407.43L272.80 407.18L274.28 406.93L275.77 406.68L277.25 406.44L278.73 406.20L280.22 405.96L281.70 405.72L283.18 405.49L284.67 405.27L286.15 405.04L287.64 404.82L289.13 404.60L290.61 404.39L292.10 404.18L293.59 403.97L295.07 403.77L296.56 403.57L298.05 403.38L299.54 403.19L301.03 403.00L302.52 402.82L304.01 402.64L305.50 402.46L306.99 402.29L308.48 402.12L309.98 401.96L311.47 401.80L312.96 401.65L314.45 401.50L315.95 401.36L317.44 401.22L318.94 401.08L320.43 400.95L321.92 400.83L323.42 400.71L324.92 400.59L326.41 400.48L327.91 400.38L329.40 400.28L330.90 400.18L332.40 400.09L333.89 400.01L335.39 399.93L336.89 399.85L338.39 399.78L339.89 399.72L341.38 399.66L342.88 399.61L344.38 399.56L345.88 399.52L347.38 399.48L348.88 399.45L350.38 399.43L351.88 399.41L353.38 399.40L354.88 399.39L356.38 399.39L357.87 399.39L359.37 399.40L360.87 399.41L362.37 399.43L363.87 399.46L365.37 399.49L366.87 399.53L368.36 399.57L369.86 399.62L371.36 399.68L372.86 399.74L374.35 399.81L375.85 399.88L377.35 399.96L378.84 400.04L380.34 400.13L381.83 400.23L383.33 400.33L384.82 400.44L386.31 400.56L387.80 400.68L389.30 400.80L390.79 400.94L392.28 401.08L393.77 401.22L395.26 401.37L396.75 401.53L398.23 401.70L399.72 401.87L401.21 402.04L402.69 402.23L404.18 402.42L405.66 402.61L407.14 402.81L408.63 403.02L410.11 403.24L411.59 403.46L413.07 403.69L414.54 403.92L416.02 404.16L417.50 404.41L418.97 404.66L420.45 404.92L421.92 405.19L423.39 405.46L424.86 405.74L426.33 406.02L427.80 406.31L429.27 406.61L430.73 406.91L432.20 407.21L433.67 407.52L435.13 407.84L436.59 408.16L438.06 408.48L439.52 408.81L440.98 409.14L442.44 409.48L443.90 409.82L445.36 410.16L446.82 410.51L448.28 410.86L449.73 411.21L451.19 411.57L452.65 411.92L454.10 412.29L455.56 412.65L457.01 413.01L458.47 413.38L459.92 413.75L461.37 414.12L462.83 414.49L464.28 414.87L465.73 415.24L467.19 415.62L468.64 415.99L470.09 416.37L471.54 416.75L472.99 417.13L474.44 417.51L475.89 417.88L477.35 418.26L478.80 418.64L480.25 419.02L481.70 419.39L483.15 419.77L484.60 420.14L486.05 420.51L487.50 420.89L488.95 421.26L490.41 421.62L491.86 421.99L493.31 422.35L494.76 422.72L496.21 423.08L497.66 423.43L499.12 423.79L500.57 423.80L502.02 423.80L503.48 423.80L504.93 423.80L506.39 423.80L507.84 423.80L509.29 423.80L510.75 423.80L512.21 423.80L513.66 423.80L515.12 423.80L516.58 423.80L518.04 423.80L519.50 423.80L520.96 423.80L522.42 423.80L523.88 423.80L525.34 423.80L526.80 423.80L528.26 423.80L529.73 423.80L531.19 423.80L532.66 423.80L534.13 423.80L535.59 423.80L537.06 423.80L538.53 423.80L540.00 423.80L541.47 423.80L542.94 423.80L544.42 423.80L545.89 423.80L547.37 423.80L548.84 423.80L550.32 423.80L551.80 423.80L553.28 423.80L554.76 423.80L556.25 423.80L557.73 423.80L559.21 423.80L560.70 423.80L562.19 423.80L563.68 423.80L565.17 423.80L566.66 423.80L568.15 423.80L569.65 423.80L571.15 423.80L572.64 423.80L574.14 423.80L575.65 423.80L577.15 423.80L578.65 423.80L580.16 423.80L581.67 423.80L583.18 423.80L584.69 423.80L586.20 423.80L587.71 423.80L589.23 423.80L590.75 423.80L592.27 423.80L593.79 423.80L595.32 423.80L596.84 423.80L598.37 423.80L599.90 423.80L601.43 423.80L602.96 423.80L604.50 423.80L606.04 423.80L607.58 423.80L609.12 423.80L610.66 423.80L612.21 423.80L613.76 423.80L615.31 423.80L616.86 423.80L618.42 423.80L619.98 423.80L621.54 423.80L623.10 423.80L624.66 423.80L626.23 423.80L627.80 423.80L629.37 423.80L630.95 423.80L631.47 423.80" stroke="#000"/>
<path d="M99.18 423.80L99.18 422.47L99.18 422.47L100.72 422.47L102.26 422.47L103.79 422.47L105.32 422.47L106.85 422.47L108.38 422.47L109.91 422.47L111.43 422.47L112.96 422.47L114.48 422.47L116.00 422.47L117.52 422.47L119.04 422.47L120.55 422.47L122.07 422.47L123.58 422.47L125.09 422.47L126.60 422.47L128.11 422.47L129.62 422.47L131.13 422.47L132.63 422.47L134.14 422.47L135.64 422.47L137.14 422.47L138.64 422.47L140.14 422.47L141.64 422.47L143.13 422.47L144.63 422.47L146.12 422.47L147.62 422.47L149.11 422.47L150.60 422.47L152.09 422.47L153.58 422.47L155.07 422.47L156.55 422.47L158.04 422.47L159.52 422.47L161.01 422.47L162.49 422.47L163.98 422.47L165.46 422.47L166.94 422.47L168.42 422.47L169.90 422.47L171.38 422.47L172.86 422.47L174.33 422.47L175.81 422.47L177.29 422.47L178.76 422.47L180.24 422.47L181.71 422.47L183.18 422.39L184.66 422.17L186.13 421.95L187.60 421.72L189.08 421.49L190.55 421.25L192.02 421.01L193.49 420.76L194.96 420.51L196.43 420.26L197.90 420.00L199.37 419.74L200.84 419.48L202.31 419.21L203.77 418.94L205.24 418.67L206.71 418.39L208.18 418.11L209.65 417.83L211.12 417.55L212.58 417.27L214.05 416.98L215.52 416.69L216.99 416.40L218.45 416.11L219.92 415.82L221.39 415.52L222.86 415.23L224.32 414.93L225.79 414.64L227.26 414.34L228.73 414.04L230.20 413.74L231.67 413.45L233.14 413.15L234.60 412.85L236.07 412.55L237.54 412.25L239.01 411.96L240.48 411.66L241.95 411.37L243.43 411.07L244.90 410.78L246.37 410.49L247.84 410.20L249.31 409.91L250.79 409.62L252.26 409.34L253.74 409.05L255.21 408.77L256.69 408.49L258.16 408.22L259.64 407.94L261.12 407.67L262.59 407.40L264.07 407.14L265.55 406.87L267.03 406.61L268.51 406.35L269.99 406.10L271.47 405.85L272.95 405.60L274.44 405.35L275.92 405.11L277.40 404.87L278.88 404.63L280.37 404.39L281.85 404.16L283.34 403.94L284.82 403.71L286.31 403.49L287.79 403.27L289.28 403.06L290.77 402.85L292.26 402.64L293.74 402.44L295.23 402.24L296.72 402.05L298.21 401.85L299.70 401.67L301.19 401.48L302.68 401.31L304.17 401.13L305.66 400.96L307.15 400.79L308.65 400.63L310.14 400.47L311.63 400.32L313.12 400.17L314.62 400.03L316.11 399.89L317.60 399.75L319.10 399.62L320.59 399.50L322.09 399.38L323.58 399.26L325.08 399.15L326.58 399.05L328.07 398.94L329.57 398.85L331.07 398.76L332.56 398.67L334.06 398.59L335.56 398.52L337.06 398.45L338.56 398.39L340.05 398.33L341.55 398.28L343.05 398.23L344.55 398.19L346.05 398.15L347.55 398.12L349.05 398.10L350.55 398.08L352.05 398.07L353.55 398.06L355.04 398.05L356.38 398.05L356.38 399.39L357.71 399.39L357.71 400.72L357.71 400.72L356.21 400.72L354.71 400.73L353.21 400.74L351.71 400.76L350.21 400.79L348.71 400.82L347.21 400.85L345.71 400.89L344.21 400.94L342.72 400.99L341.22 401.05L339.72 401.11L338.22 401.18L336.72 401.26L335.23 401.34L333.73 401.42L332.23 401.51L330.73 401.61L329.24 401.71L327.74 401.81L326.25 401.92L324.75 402.04L323.26 402.16L321.76 402.28L320.27 402.41L318.77 402.55L317.28 402.69L315.79 402.83L314.29 402.98L312.80 403.14L311.31 403.29L309.82 403.46L308.32 403.62L306.83 403.79L305.34 403.97L303.85 404.15L302.36 404.33L300.87 404.52L299.38 404.71L297.89 404.90L296.41 405.10L294.92 405.30L293.43 405.51L291.94 405.72L290.46 405.93L288.97 406.15L287.48 406.37L286.00 406.60L284.51 406.82L283.03 407.06L281.55 407.29L280.06 407.53L278.58 407.77L277.10 408.01L275.62 408.26L274.13 408.51L272.65 408.76L271.17 409.02L269.69 409.27L268.21 409.54L266.73 409.80L265.26 410.06L263.78 410.33L262.30 410.61L260.82 410.88L259.35 411.16L257.87 411.43L256.40 411.71L254.92 412.00L253.45 412.28L251.98 412.57L250.50 412.86L249.03 413.15L247.56 413.44L246.09 413.73L244.62 414.03L243.15 414.32L241.68 414.62L240.21 414.92L238.74 415.21L237.27 415.51L235.80 415.81L234.33 416.11L232.86 416.41L231.39 416.70L229.92 417.00L228.45 417.30L226.99 417.60L225.52 417.89L224.05 418.19L222.58 418.48L221.12 418.77L219.65 419.06L218.18 419.35L216.71 419.64L215.25 419.93L213.78 420.21L212.31 420.50L210.84 420.78L209.37 421.05L207.91 421.33L206.44 421.60L204.97 421.87L203.50 422.14L202.03 422.40L200.56 422.66L199.09 422.92L197.62 423.17L196.15 423.42L194.68 423.67L193.21 423.91L191.74 424.15L190.27 424.38L188.79 424.61L187.32 424.84L185.85 425.06L184.37 425.13L182.90 425.13L181.42 425.13L179.95 425.13L178.47 425.13L176.99 425.13L175.52 425.13L174.04 425.13L172.56 425.13L171.08 425.13L169.60 425.13L168.12 425.13L166.64 425.13L165.15 425.13L163.67 425.13L162.19 425.13L160.70 425.13L159.22 425.13L157.73 425.13L156.24 425.13L154.75 425.13L153.26 425.13L151.77 425.13L150.28 425.13L148.78 425.13L147.29 425.13L145.79 425.13L144.30 425.13L142.80 425.13L141.30 425.13L139.80 425.13L138.30 425.13L136.80 425.13L135.29 425.13L133.79 425.13L132.28 425.13L130.78 425.13L129.27 425.13L127.76 425.13L126.24 425.13L124.73 425.13L123.22 425.13L121.70 425.13L120.18 425.13L118.66 425.13L117.14 425.13L115.62 425.13L114.10 425.13L112.57 425.13L111.04 425.13L109.51 425.13L107.98 425.13L106.45 425.13L104.92 425.13L103.38 425.13L101.85 425.13L100.51 425.13L100.51 423.80ZM355.04 399.39L355.04 400.72L355.04 400.72L356.54 400.72L358.04 400.73L359.54 400.74L361.04 400.77L362.54 400.79L364.04 400.82L365.53 400.86L367.03 400.90L368.53 400.95L370.03 401.01L371.52 401.07L373.02 401.14L374.52 401.21L376.01 401.29L377.51 401.37L379.00 401.46L380.50 401.56L381.99 401.66L383.49 401.77L384.98 401.89L386.47 402.01L387.96 402.14L389.46 402.27L390.95 402.41L392.44 402.55L393.93 402.71L395.41 402.86L396.90 403.03L398.39 403.20L399.88 403.38L401.36 403.56L402.85 403.75L404.33 403.94L405.81 404.15L407.29 404.35L408.77 404.57L410.25 404.79L411.73 405.02L413.21 405.25L414.69 405.49L416.16 405.74L417.64 405.99L419.11 406.25L420.59 406.52L422.06 406.79L423.53 407.07L425.00 407.36L426.47 407.64L427.93 407.94L429.40 408.24L430.87 408.55L432.33 408.86L433.80 409.17L435.26 409.49L436.72 409.81L438.19 410.14L439.65 410.47L441.11 410.81L442.57 411.15L444.03 411.49L445.48 411.84L446.94 412.19L448.40 412.54L449.86 412.90L451.31 413.26L452.77 413.62L454.22 413.98L455.68 414.35L457.13 414.71L458.59 415.08L460.04 415.45L461.49 415.83L462.95 416.20L464.40 416.57L465.85 416.95L467.30 417.33L468.76 417.70L470.21 418.08L471.66 418.46L473.11 418.84L474.56 419.22L476.01 419.59L477.46 419.97L478.92 420.35L480.37 420.72L481.82 421.10L483.27 421.47L484.72 421.85L486.17 422.22L487.62 422.59L489.07 422.96L490.52 423.32L491.98 423.69L493.43 424.05L494.88 424.41L496.33 424.77L497.79 425.12L499.24 425.13L500.69 425.13L502.14 425.13L503.60 425.13L505.05 425.13L506.51 425.13L507.96 425.13L509.42 425.13L510.87 425.13L512.33 425.13L513.79 425.13L515.25 425.13L516.70 425.13L518.16 425.13L519.62 425.13L521.08 425.13L522.54 425.13L524.01 425.13L525.47 425.13L526.93 425.13L528.40 425.13L529.86 425.13L531.33 425.13L532.79 425.13L534.26 425.13L535.73 425.13L537.20 425.13L538.67 425.13L540.14 425.13L541.61 425.13L543.09 425.13L544.56 425.13L546.04 425.13L547.51 425.13L548.99 425.13L550.47 425.13L551.95 425.13L553.43 425.13L554.91 425.13L556.40 425.13L557.88 425.13L559.37 425.13L560.86 425.13L562.35 425.13L563.84 425.13L565.33 425.13L566.82 425.13L568.32 425.13L569.81 425.13L571.31 425.13L572.81 425.13L574.31 425.13L575.82 425.13L577.32 425.13L578.83 425.13L580.33 425.13L581.84 425.13L583.35 425.13L584.87 425.13L586.38 425.13L587.90 425.13L589.42 425.13L590.94 425.13L592.46 425.13L593.98 425.13L595.51 425.13L597.04 425.13L598.57 425.13L600.10 425.13L601.63 425.13L603.17 425.13L604.71 425.13L606.25 425.13L607.79 425.13L609.33 425.13L610.88 425.13L612.43 425.13L613.98 425.13L615.53 425.13L617.09 425.13L618.64 425.13L620.20 425.13L621.77 425.13L623.33 425.13L624.90 425.13L626.47 425.13L628.04 425.13L629.62 425.13L630.14 425.13L631.47 425.13L631.47 423.80L632.81 423.80L632.81 422.47L632.81 422.47L632.28 422.47L630.71 422.47L629.13 422.47L627.56 422.47L626.00 422.47L624.43 422.47L622.87 422.47L621.31 422.47L619.75 422.47L618.20 422.47L616.64 422.47L615.09 422.47L613.54 422.47L612.00 422.47L610.45 422.47L608.91 422.47L607.37 422.47L605.83 422.47L604.30 422.47L602.76 422.47L601.23 422.47L599.70 422.47L598.17 422.47L596.65 422.47L595.12 422.47L593.60 422.47L592.08 422.47L590.56 422.47L589.05 422.47L587.53 422.47L586.02 422.47L584.51 422.47L583.00 422.47L581.49 422.47L579.98 422.47L578.48 422.47L576.98 422.47L575.48 422.47L573.98 422.47L572.48 422.47L570.98 422.47L569.49 422.47L567.99 422.47L566.50 422.47L565.01 422.47L563.52 422.47L562.03 422.47L560.55 422.47L559.06 422.47L557.58 422.47L556.10 422.47L554.61 422.47L553.13 422.47L551.65 422.47L550.18 422.47L548.70 422.47L547.22 422.47L545.75 422.47L544.28 422.47L542.80 422.47L541.33 422.47L539.86 422.47L538.39 422.47L536.92 422.47L535.46 422.47L533.99 422.47L532.53 422.47L531.06 422.47L529.60 422.47L528.13 422.47L526.67 422.47L525.21 422.47L523.75 422.47L522.29 422.47L520.83 422.47L519.37 422.47L517.91 422.47L516.45 422.47L515.00 422.47L513.54 422.47L512.08 422.47L510.63 422.47L509.17 422.47L507.72 422.47L506.26 422.47L504.81 422.47L503.36 422.47L501.90 422.47L500.45 422.46L499.00 422.10L497.54 421.74L496.09 421.38L494.64 421.02L493.19 420.66L491.74 420.29L490.29 419.92L488.84 419.55L487.38 419.18L485.93 418.81L484.48 418.44L483.03 418.06L481.58 417.68L480.13 417.31L478.68 416.93L477.23 416.55L475.78 416.17L474.32 415.80L472.87 415.42L471.42 415.04L469.97 414.66L468.52 414.29L467.07 413.91L465.61 413.54L464.16 413.16L462.71 412.79L461.25 412.42L459.80 412.05L458.34 411.68L456.89 411.32L455.43 410.95L453.98 410.59L452.52 410.23L451.06 409.88L449.61 409.53L448.15 409.18L446.69 408.83L445.23 408.49L443.77 408.15L442.31 407.81L440.85 407.48L439.39 407.15L437.93 406.83L436.46 406.51L435.00 406.19L433.53 405.88L432.07 405.58L430.60 405.28L429.13 404.98L427.66 404.69L426.19 404.41L424.72 404.13L423.25 403.86L421.78 403.59L420.30 403.33L418.83 403.08L417.35 402.83L415.88 402.59L414.40 402.35L412.92 402.13L411.44 401.90L409.96 401.69L408.48 401.48L406.99 401.28L405.51 401.08L404.03 400.89L402.54 400.71L401.05 400.53L399.57 400.36L398.08 400.20L396.59 400.04L395.10 399.89L393.61 399.74L392.12 399.61L390.63 399.47L389.14 399.34L387.64 399.22L386.15 399.11L384.66 399.00L383.16 398.90L381.67 398.80L380.17 398.71L378.68 398.62L377.18 398.55L375.69 398.47L374.19 398.41L372.69 398.34L371.19 398.29L369.70 398.24L368.20 398.20L366.70 398.16L365.20 398.13L363.70 398.10L362.21 398.08L360.71 398.07L359.21 398.06L357.71 398.05L356.38 398.05L356.38 399.39Z" fill="#000" stroke="none"/>
<path d="M184.81 422.48L185.85 421.41L186.45 420.82M189.88 417.67L190.86 416.83L191.66 416.17M195.38 413.35L196.53 412.55L197.31 412.02M201.33 409.53L202.48 408.88L203.41 408.37M207.72 406.21L208.65 405.78L209.95 405.21M214.55 403.37L215.50 403.03L216.89 402.55L216.93 402.54M221.83 401.01L223.02 400.68L224.35 400.33M229.53 399.11L230.71 398.87L232.17 398.58L232.20 398.57M237.65 397.64L239.04 397.43L240.44 397.23M246.15 396.55L247.46 396.42L248.95 396.28L249.05 396.27M254.97 395.81L256.41 395.72L257.91 395.63L257.98 395.63M264.10 395.37L265.39 395.33L266.88 395.29L267.21 395.29M273.53 395.22L274.87 395.22L276.37 395.23L276.71 395.23M282.98 395.35L284.36 395.39L285.86 395.44L286.08 395.45M292.20 395.71L293.36 395.77L294.86 395.86L295.24 395.88M301.25 396.26L302.36 396.34L303.86 396.45L304.23 396.48M310.16 396.96L311.36 397.06L312.86 397.20L313.10 397.22M318.96 397.77L320.36 397.91L321.86 398.06L321.87 398.06M327.68 398.67L328.85 398.79L330.35 398.96L330.57 398.98M336.35 399.62L337.83 399.79L339.23 399.95M344.99 400.62L346.30 400.77L347.80 400.94L347.87 400.95M353.62 401.62L354.76 401.75L356.26 401.93L356.50 401.96M362.25 402.63L363.71 402.80L365.13 402.97M370.88 403.65L372.15 403.81L373.63 403.98L373.75 404.00M379.50 404.69L380.57 404.82L382.06 405.00L382.37 405.04M388.10 405.75L389.49 405.92L390.97 406.10M396.70 406.82L397.90 406.97L399.38 407.16L399.56 407.18M405.27 407.92L406.30 408.05L407.79 408.24L408.13 408.29M413.83 409.04L415.20 409.22L416.68 409.42L416.68 409.42M422.37 410.18L423.59 410.35L425.07 410.55L425.21 410.57M430.89 411.36L431.98 411.52L433.46 411.72L433.72 411.76M439.38 412.57L440.37 412.71L441.85 412.93L442.20 412.98M447.84 413.81L449.25 414.02L450.65 414.23M456.27 415.09L457.64 415.30L459.08 415.53M464.68 416.41L466.02 416.62L467.47 416.86M473.05 417.77L474.41 417.99L475.83 418.23M481.38 419.16L482.80 419.41L484.15 419.64M489.68 420.61L490.70 420.79L492.19 421.05L492.44 421.10M497.94 422.10L499.10 422.31L500.59 422.58L500.68 422.60M506.16 423.63L507.51 423.80L508.99 423.80L509.24 423.80" stroke="#0000ff"/>
<path d="M183.64 422.48L183.64 421.30L183.64 421.30L184.68 420.23L185.28 419.65L186.45 419.65L186.45 420.82L187.62 420.82L187.62 421.99L187.62 421.99L187.03 422.58L185.98 423.65L184.81 423.65L184.81 422.48ZM188.68 417.67L188.68 416.47L188.68 416.47L189.66 415.63L190.46 414.97L191.66 414.97L191.66 416.17L192.86 416.17L192.86 417.37L192.86 417.37L192.06 418.03L191.08 418.87L189.88 418.87L189.88 417.67ZM194.16 413.35L194.16 412.13L194.16 412.13L195.31 411.33L196.09 410.80L197.31 410.80L197.31 412.02L198.54 412.02L198.54 413.25L198.54 413.25L197.76 413.77L196.61 414.58L195.38 414.58L195.38 413.35ZM200.08 409.53L200.08 408.29L200.08 408.29L201.23 407.64L202.16 407.13L203.41 407.13L203.41 408.37L204.65 408.37L204.65 409.62L204.65 409.62L203.72 410.13L202.57 410.78L201.33 410.78L201.33 409.53ZM206.45 406.21L206.45 404.95L206.45 404.95L207.39 404.52L208.68 403.95L209.95 403.95L209.95 405.21L211.21 405.21L211.21 406.48L211.21 406.48L209.92 407.05L208.98 407.48L207.72 407.48L207.72 406.21ZM213.27 403.37L213.27 402.09L213.27 402.09L214.22 401.75L215.61 401.27L215.65 401.25L216.93 401.25L216.93 402.54L218.21 402.54L218.21 403.82L218.21 403.82L218.18 403.83L216.78 404.31L215.84 404.66L214.55 404.66L214.55 403.37ZM220.53 401.01L220.53 399.72L220.53 399.72L221.72 399.39L223.05 399.03L224.35 399.03L224.35 400.33L225.65 400.33L225.65 401.63L225.65 401.63L224.31 401.98L223.13 402.31L221.83 402.31L221.83 401.01ZM228.22 399.11L228.22 397.80L228.22 397.80L229.40 397.55L230.86 397.27L230.88 397.26L232.20 397.26L232.20 398.57L233.51 398.57L233.51 399.88L233.51 399.88L233.48 399.89L232.03 400.18L230.84 400.42L229.53 400.42L229.53 399.11ZM236.33 397.64L236.33 396.32L236.33 396.32L237.72 396.11L239.12 395.91L240.44 395.91L240.44 397.23L241.76 397.23L241.76 398.56L241.76 398.56L240.36 398.75L238.97 398.96L237.65 398.96L237.65 397.64ZM244.81 396.55L244.81 395.22L244.81 395.22L246.13 395.09L247.62 394.95L247.72 394.94L249.05 394.94L249.05 396.27L250.38 396.27L250.38 397.60L250.38 397.60L250.28 397.61L248.79 397.75L247.48 397.88L246.15 397.88L246.15 396.55ZM253.64 395.81L253.64 394.47L253.64 394.47L255.08 394.38L256.57 394.30L256.65 394.29L257.98 394.29L257.98 395.63L259.32 395.63L259.32 396.97L259.32 396.97L259.25 396.97L257.75 397.06L256.31 397.15L254.97 397.15L254.97 395.81ZM262.76 395.37L262.76 394.02L262.76 394.02L264.04 393.98L265.54 393.95L265.87 393.94L267.21 393.94L267.21 395.29L268.56 395.29L268.56 396.63L268.56 396.63L268.23 396.64L266.73 396.67L265.45 396.71L264.10 396.71L264.10 395.37ZM273.22 395.22L273.22 395.53L273.22 395.53L274.56 395.53L276.06 395.54L276.40 395.54L276.71 395.54L276.71 395.23L277.02 395.23L277.02 394.92L277.02 394.92L276.68 394.92L275.18 394.91L273.84 394.91L273.53 394.91L273.53 395.22ZM281.64 395.35L281.64 396.69L281.64 396.69L283.02 396.73L284.52 396.78L284.73 396.79L286.08 396.79L286.08 395.45L287.42 395.45L287.42 394.10L287.42 394.10L287.20 394.10L285.71 394.05L284.32 394.01L282.98 394.01L282.98 395.35ZM290.86 395.71L290.86 397.05L290.86 397.05L292.02 397.11L293.52 397.19L293.90 397.22L295.24 397.22L295.24 395.88L296.58 395.88L296.58 394.54L296.58 394.54L296.20 394.52L294.70 394.43L293.54 394.37L292.20 394.37L292.20 395.71ZM299.91 396.26L299.91 397.60L299.91 397.60L301.03 397.68L302.53 397.79L302.90 397.81L304.23 397.81L304.23 396.48L305.57 396.48L305.57 395.14L305.57 395.14L305.20 395.12L303.70 395.01L302.59 394.93L301.25 394.93L301.25 396.26ZM308.82 396.96L308.82 398.29L308.82 398.29L310.03 398.40L311.53 398.53L311.77 398.55L313.10 398.55L313.10 397.22L314.43 397.22L314.43 395.89L314.43 395.89L314.19 395.86L312.69 395.73L311.49 395.63L310.16 395.63L310.16 396.96ZM317.63 397.77L317.63 399.10L317.63 399.10L319.03 399.24L320.53 399.39L320.54 399.39L321.87 399.39L321.87 398.06L323.20 398.06L323.20 396.73L323.20 396.73L323.19 396.73L321.69 396.58L320.29 396.44L318.96 396.44L318.96 397.77ZM326.35 398.67L326.35 400.00L326.35 400.00L327.52 400.12L329.02 400.29L329.24 400.31L330.57 400.31L330.57 398.98L331.90 398.98L331.90 397.65L331.90 397.65L331.67 397.63L330.18 397.47L329.00 397.34L327.68 397.34L327.68 398.67ZM335.02 399.62L335.02 400.95L335.02 400.95L336.50 401.12L337.90 401.28L339.23 401.28L339.23 399.95L340.56 399.95L340.56 398.63L340.56 398.63L339.16 398.47L337.67 398.30L336.35 398.30L336.35 399.62ZM343.66 400.62L343.66 401.94L343.66 401.94L344.98 402.09L346.47 402.27L346.54 402.28L347.87 402.28L347.87 400.95L349.19 400.95L349.19 399.62L349.19 399.62L349.12 399.61L347.63 399.44L346.31 399.29L344.99 399.29L344.99 400.62ZM352.29 401.62L352.29 402.95L352.29 402.95L353.44 403.08L354.93 403.25L355.17 403.28L356.50 403.28L356.50 401.96L357.83 401.96L357.83 400.63L357.83 400.63L357.58 400.60L356.09 400.43L354.95 400.29L353.62 400.29L353.62 401.62ZM360.93 402.63L360.93 403.96L360.93 403.96L362.38 404.13L363.80 404.30L365.13 404.30L365.13 402.97L366.46 402.97L366.46 401.64L366.46 401.64L365.04 401.48L363.58 401.30L362.25 401.30L362.25 402.63ZM369.55 403.65L369.55 404.98L369.55 404.98L370.82 405.13L372.31 405.31L372.43 405.32L373.75 405.32L373.75 404.00L375.08 404.00L375.08 402.67L375.08 402.67L374.96 402.66L373.47 402.48L372.21 402.33L370.88 402.33L370.88 403.65ZM378.17 404.69L378.17 406.02L378.17 406.02L379.25 406.15L380.73 406.33L381.04 406.37L382.37 406.37L382.37 405.04L383.69 405.04L383.69 403.72L383.69 403.72L383.39 403.68L381.90 403.50L380.82 403.37L379.50 403.37L379.50 404.69ZM386.78 405.75L386.78 407.07L386.78 407.07L388.16 407.24L389.64 407.43L390.97 407.43L390.97 406.10L392.29 406.10L392.29 404.78L392.29 404.78L390.81 404.59L389.43 404.42L388.10 404.42L388.10 405.75ZM395.37 406.82L395.37 408.15L395.37 408.15L396.57 408.30L398.06 408.49L398.23 408.51L399.56 408.51L399.56 407.18L400.88 407.18L400.88 405.86L400.88 405.86L400.71 405.84L399.22 405.65L398.02 405.50L396.70 405.50L396.70 406.82ZM403.95 407.92L403.95 409.24L403.95 409.24L404.98 409.37L406.46 409.57L406.80 409.61L408.13 409.61L408.13 408.29L409.45 408.29L409.45 406.96L409.45 406.96L409.11 406.92L407.63 406.73L406.60 406.59L405.27 406.59L405.27 407.92ZM412.51 409.04L412.51 410.36L412.51 410.36L413.87 410.54L415.35 410.74L415.36 410.74L416.68 410.74L416.68 409.42L418.00 409.42L418.00 408.09L418.00 408.09L418.00 408.09L416.52 407.89L415.16 407.71L413.83 407.71L413.83 409.04ZM421.05 410.18L421.05 411.51L421.05 411.51L422.27 411.67L423.75 411.88L423.89 411.90L425.21 411.90L425.21 410.57L426.53 410.57L426.53 409.25L426.53 409.25L426.39 409.23L424.91 409.03L423.69 408.86L422.37 408.86L422.37 410.18ZM429.56 411.36L429.56 412.68L429.56 412.68L430.66 412.84L432.14 413.05L432.40 413.08L433.72 413.08L433.72 411.76L435.04 411.76L435.04 410.44L435.04 410.44L434.78 410.40L433.30 410.19L432.21 410.04L430.89 410.04L430.89 411.36ZM438.06 412.57L438.06 413.89L438.06 413.89L439.05 414.03L440.53 414.25L440.88 414.30L442.20 414.30L442.20 412.98L443.52 412.98L443.52 411.66L443.52 411.66L443.17 411.61L441.69 411.39L440.70 411.25L439.38 411.25L439.38 412.57ZM446.52 413.81L446.52 415.13L446.52 415.13L447.93 415.34L449.33 415.55L450.65 415.55L450.65 414.23L451.97 414.23L451.97 412.91L451.97 412.91L450.57 412.70L449.16 412.49L447.84 412.49L447.84 413.81ZM454.95 415.09L454.95 416.41L454.95 416.41L456.32 416.62L457.76 416.85L459.08 416.85L459.08 415.53L460.40 415.53L460.40 414.21L460.40 414.21L458.96 413.98L457.59 413.77L456.27 413.77L456.27 415.09ZM463.36 416.41L463.36 417.73L463.36 417.73L464.71 417.94L466.15 418.17L467.47 418.17L467.47 416.86L468.79 416.86L468.79 415.54L468.79 415.54L467.34 415.31L465.99 415.09L464.68 415.09L464.68 416.41ZM471.73 417.77L471.73 419.08L471.73 419.08L473.10 419.31L474.51 419.54L475.83 419.54L475.83 418.23L477.14 418.23L477.14 416.91L477.14 416.91L475.73 416.67L474.36 416.45L473.05 416.45L473.05 417.77ZM480.06 419.16L480.06 420.48L480.06 420.48L481.49 420.72L482.83 420.96L484.15 420.96L484.15 419.64L485.47 419.64L485.47 418.32L485.47 418.32L484.12 418.09L482.70 417.85L481.38 417.85L481.38 419.16ZM488.36 420.61L488.36 421.92L488.36 421.92L489.39 422.10L490.87 422.37L491.12 422.41L492.44 422.41L492.44 421.10L493.75 421.10L493.75 419.78L493.75 419.78L493.50 419.74L492.02 419.48L490.99 419.29L489.68 419.29L489.68 420.61ZM496.63 422.10L496.63 423.41L496.63 423.41L497.79 423.62L499.27 423.90L499.37 423.92L500.68 423.92L500.68 422.60L502.00 422.60L502.00 421.29L502.00 421.29L501.90 421.27L500.42 421.00L499.25 420.78L497.94 420.78L497.94 422.10ZM504.82 423.63L504.82 424.97L504.82 424.97L506.17 425.14L507.65 425.14L507.90 425.14L509.24 425.14L509.24 423.80L510.58 423.80L510.58 422.46L510.58 422.46L510.33 422.46L508.85 422.46L507.50 422.29L506.16 422.29L506.16 423.63Z" fill="#0000ff" stroke="none"/>
<path d="M166.93 423.80L167.95 423.03L168.38 422.52M171.30 418.79L171.98 417.85L172.67 416.84M175.26 412.74L175.97 411.52L176.70 410.21L177.40 408.90L178.08 407.57L178.74 406.24L179.39 404.89L179.86 403.87M181.90 399.15L182.34 398.06L182.86 396.74M184.70 391.80L185.11 390.63L185.60 389.23L186.07 387.82L186.53 386.41L186.98 384.99L187.43 383.58L187.86 382.16L188.03 381.56M189.53 376.27L189.87 375.01L190.24 373.58M191.57 368.12L191.87 366.82L192.19 365.37L192.51 363.91L192.82 362.46L193.12 361.00L193.41 359.53L193.69 358.07L193.92 356.90M194.94 351.14L195.17 349.73L195.41 348.25L195.41 348.23M196.29 342.35L196.43 341.33L196.64 339.84L196.83 338.35L197.02 336.86L197.21 335.37L197.39 333.87L197.57 332.38L197.74 330.88L197.80 330.39M198.44 324.33L198.58 322.88L198.72 321.38L198.73 321.28M199.28 315.14L199.39 313.86L199.52 312.35L199.64 310.84L199.76 309.34L199.87 307.83L199.99 306.32L200.10 304.81L200.21 303.30L200.25 302.79M200.68 296.58L200.77 295.25L200.87 293.74L200.89 293.47M201.29 287.25L201.36 286.20L201.46 284.70L201.55 283.19L201.65 281.68L201.74 280.18L201.84 278.67L201.93 277.16L202.03 275.66L202.08 274.78M202.46 268.54L202.55 267.13L202.64 265.63L202.65 265.42M203.02 259.17L203.08 258.11L203.17 256.61L203.25 255.11L203.34 253.61L203.42 252.11L203.51 250.60L203.59 249.10L203.68 247.60L203.73 246.65M204.08 240.39L204.15 239.10L204.23 237.60L204.25 237.26M204.58 230.99L204.65 229.61L204.73 228.11L204.81 226.61L204.88 225.12L204.96 223.62L205.04 222.12L205.11 220.62L205.19 219.13L205.22 218.43M205.53 212.14L205.58 211.14L205.65 209.65L205.69 209.00M205.99 202.71L206.03 201.67L206.10 200.17L206.17 198.68L206.24 197.18L206.31 195.69L206.38 194.19L206.45 192.70L206.52 191.20L206.56 190.12M206.84 183.81L206.89 182.73L206.96 181.24L206.98 180.66M207.25 174.35L207.29 173.27L207.36 171.77L207.42 170.28L207.48 168.78L207.54 167.29L207.60 165.79L207.66 164.30L207.72 162.81L207.77 161.72M208.02 155.40L208.06 154.34L208.12 152.85L208.14 152.24M208.38 145.92L208.42 144.88L208.47 143.38L208.53 141.89L208.58 140.40L208.64 138.90L208.69 137.41L208.75 135.91L208.80 134.42L208.84 133.26M209.06 126.93L209.12 125.45L209.17 123.96L209.17 123.76M209.39 117.42L209.44 115.98L209.49 114.49L209.53 112.99L209.58 111.50L209.63 110.00L209.68 108.51L209.73 107.01L209.78 105.51L209.80 104.74M210.00 98.39L210.04 97.04L210.09 95.54L210.10 95.22M210.29 88.87L210.33 87.55L210.37 86.05L210.42 84.56L210.46 83.06L210.50 81.56L210.55 80.06L210.59 78.56L210.63 77.06L210.66 76.16M210.83 69.81L210.87 68.57L210.91 67.07L210.92 66.63M211.09 60.27L211.12 59.06L211.16 57.56L211.20 56.06L211.24 54.56L211.28 53.06L211.32 51.55L211.36 50.05L211.40 48.55L211.42 47.54M211.58 41.17L211.61 40.03L211.65 38.52L211.66 37.99M211.82 31.62L211.84 30.49L211.88 28.98L211.91 27.48L211.95 25.97L211.96 25.50" stroke="#006400"/>
<path d="M165.74 423.80L165.74 422.61L165.74 422.61L166.75 421.84L167.19 421.33L168.38 421.33L168.38 422.52L169.57 422.52L169.57 423.71L169.57 423.71L169.14 424.22L168.12 424.99L166.93 424.99L166.93 423.80ZM170.18 418.79L170.18 417.68L170.18 417.68L170.86 416.73L171.56 415.72L172.67 415.72L172.67 416.84L173.78 416.84L173.78 417.95L173.78 417.95L173.09 418.96L172.41 419.91L171.30 419.91L171.30 418.79ZM174.22 412.74L174.22 411.69L174.22 411.69L174.93 410.47L175.65 409.17L176.35 407.85L177.04 406.53L177.70 405.19L178.34 403.85L178.81 402.83L179.86 402.83L179.86 403.87L180.91 403.87L180.91 404.92L180.91 404.92L180.43 405.94L179.79 407.29L179.13 408.62L178.45 409.95L177.74 411.26L177.02 412.56L176.31 413.78L175.26 413.78L175.26 412.74ZM180.92 399.15L180.92 398.17L180.92 398.17L181.36 397.08L181.88 395.75L182.86 395.75L182.86 396.74L183.84 396.74L183.84 397.72L183.84 397.72L183.32 399.04L182.88 400.14L181.90 400.14L181.90 399.15ZM183.78 391.80L183.78 390.88L183.78 390.88L184.19 389.71L184.67 388.30L185.14 386.90L185.61 385.48L186.06 384.07L186.50 382.65L186.93 381.23L187.11 380.64L188.03 380.64L188.03 381.56L188.96 381.56L188.96 382.49L188.96 382.49L188.78 383.08L188.35 384.50L187.91 385.92L187.46 387.33L186.99 388.74L186.52 390.15L186.04 391.56L185.62 392.72L184.70 392.72L184.70 391.80ZM188.67 376.27L188.67 375.41L188.67 375.41L189.01 374.15L189.38 372.72L190.24 372.72L190.24 373.58L191.10 373.58L191.10 374.44L191.10 374.44L190.73 375.87L190.39 377.13L189.53 377.13L189.53 376.27ZM190.79 368.12L190.79 367.34L190.79 367.34L191.08 366.04L191.41 364.58L191.72 363.13L192.03 361.67L192.33 360.21L192.62 358.75L192.91 357.28L193.13 356.11L193.92 356.11L193.92 356.90L194.70 356.90L194.70 357.68L194.70 357.68L194.48 358.85L194.20 360.32L193.90 361.78L193.60 363.24L193.30 364.70L192.98 366.16L192.66 367.61L192.36 368.91L191.57 368.91L191.57 368.12ZM194.23 351.14L194.23 350.44L194.23 350.44L194.47 349.02L194.70 347.55L194.71 347.53L195.41 347.53L195.41 348.23L196.11 348.23L196.11 348.93L196.11 348.93L196.11 348.95L195.87 350.43L195.64 351.84L194.94 351.84L194.94 351.14ZM195.67 342.35L195.67 341.74L195.67 341.74L195.82 340.71L196.02 339.22L196.22 337.73L196.41 336.24L196.60 334.75L196.78 333.26L196.95 331.76L197.12 330.27L197.18 329.78L197.80 329.78L197.80 330.39L198.41 330.39L198.41 331.01L198.41 331.01L198.36 331.50L198.18 332.99L198.01 334.49L197.83 335.98L197.64 337.47L197.45 338.97L197.25 340.45L197.05 341.94L196.91 342.97L196.29 342.97L196.29 342.35ZM197.91 324.33L197.91 323.80L197.91 323.80L198.05 322.35L198.19 320.85L198.20 320.74L198.73 320.74L198.73 321.28L199.27 321.28L199.27 321.81L199.27 321.81L199.26 321.91L199.11 323.41L198.97 324.86L198.44 324.86L198.44 324.33ZM198.82 315.14L198.82 314.68L198.82 314.68L198.93 313.40L199.06 311.89L199.18 310.38L199.30 308.87L199.41 307.37L199.53 305.86L199.64 304.35L199.75 302.84L199.79 302.33L200.25 302.33L200.25 302.79L200.71 302.79L200.71 303.25L200.71 303.25L200.67 303.76L200.56 305.27L200.45 306.78L200.34 308.29L200.22 309.80L200.10 311.30L199.98 312.81L199.85 314.32L199.75 315.61L199.28 315.61L199.28 315.14ZM200.26 296.58L200.26 296.16L200.26 296.16L200.35 294.84L200.45 293.33L200.47 293.05L200.89 293.05L200.89 293.47L201.30 293.47L201.30 293.89L201.30 293.89L201.29 294.16L201.18 295.67L201.10 297.00L200.68 297.00L200.68 296.58ZM200.89 287.25L200.89 286.85L200.89 286.85L200.96 285.80L201.06 284.30L201.15 282.79L201.25 281.28L201.34 279.78L201.44 278.27L201.53 276.76L201.63 275.26L201.68 274.38L202.08 274.38L202.08 274.78L202.48 274.78L202.48 275.18L202.48 275.18L202.43 276.06L202.33 277.56L202.24 279.07L202.14 280.58L202.05 282.08L201.95 283.59L201.86 285.10L201.76 286.60L201.69 287.65L201.29 287.65L201.29 287.25ZM202.08 268.54L202.08 268.15L202.08 268.15L202.16 266.75L202.25 265.24L202.26 265.03L202.65 265.03L202.65 265.42L203.03 265.42L203.03 265.80L203.03 265.80L203.02 266.01L202.93 267.52L202.85 268.92L202.46 268.92L202.46 268.54ZM202.65 259.17L202.65 258.80L202.65 258.80L202.71 257.74L202.79 256.24L202.88 254.74L202.97 253.24L203.05 251.73L203.14 250.23L203.22 248.73L203.31 247.23L203.36 246.28L203.73 246.28L203.73 246.65L204.10 246.65L204.10 247.03L204.10 247.03L204.05 247.97L203.97 249.48L203.88 250.98L203.80 252.48L203.71 253.98L203.62 255.48L203.54 256.98L203.45 258.49L203.39 259.54L203.02 259.54L203.02 259.17ZM203.72 240.39L203.72 240.03L203.72 240.03L203.79 238.74L203.87 237.25L203.89 236.90L204.25 236.90L204.25 237.26L204.60 237.26L204.60 237.61L204.60 237.61L204.58 237.96L204.50 239.46L204.43 240.75L204.08 240.75L204.08 240.39ZM204.23 230.99L204.23 230.64L204.23 230.64L204.31 229.27L204.38 227.77L204.46 226.27L204.54 224.77L204.62 223.27L204.69 221.78L204.77 220.28L204.84 218.78L204.88 218.09L205.22 218.09L205.22 218.43L205.57 218.43L205.57 218.77L205.57 218.77L205.53 219.47L205.46 220.97L205.38 222.46L205.30 223.96L205.23 225.46L205.15 226.96L205.07 228.46L204.99 229.95L204.92 231.33L204.58 231.33L204.58 230.99ZM205.20 212.14L205.20 211.81L205.20 211.81L205.25 210.81L205.32 209.32L205.36 208.67L205.69 208.67L205.69 209.00L206.02 209.00L206.02 209.33L206.02 209.33L205.98 209.98L205.91 211.47L205.86 212.47L205.53 212.47L205.53 212.14ZM205.67 202.71L205.67 202.39L205.67 202.39L205.72 201.35L205.79 199.86L205.86 198.36L205.93 196.86L206.00 195.37L206.06 193.87L206.13 192.38L206.20 190.88L206.25 189.80L206.56 189.80L206.56 190.12L206.88 190.12L206.88 190.43L206.88 190.43L206.83 191.52L206.76 193.01L206.70 194.51L206.63 196.00L206.56 197.50L206.49 198.99L206.42 200.49L206.35 201.98L206.30 203.03L205.99 203.03L205.99 202.71ZM206.54 183.81L206.54 183.51L206.54 183.51L206.59 182.43L206.65 180.93L206.68 180.36L206.98 180.36L206.98 180.66L207.28 180.66L207.28 180.96L207.28 180.96L207.26 181.54L207.19 183.03L207.15 184.12L206.84 184.12L206.84 183.81ZM206.96 174.35L206.96 174.06L206.96 174.06L207.00 172.98L207.07 171.48L207.13 169.99L207.19 168.49L207.25 167.00L207.31 165.50L207.37 164.01L207.43 162.52L207.48 161.43L207.77 161.43L207.77 161.72L208.06 161.72L208.06 162.01L208.06 162.01L208.01 163.10L207.95 164.59L207.89 166.08L207.83 167.58L207.77 169.07L207.71 170.57L207.65 172.06L207.58 173.56L207.54 174.64L207.25 174.64L207.25 174.35ZM207.74 155.40L207.74 155.13L207.74 155.13L207.78 154.06L207.84 152.57L207.86 151.97L208.14 151.97L208.14 152.24L208.42 152.24L208.42 152.52L208.42 152.52L208.39 153.12L208.33 154.62L208.29 155.68L208.02 155.68L208.02 155.40ZM208.11 145.92L208.11 145.65L208.11 145.65L208.15 144.61L208.21 143.12L208.26 141.63L208.32 140.13L208.37 138.64L208.43 137.14L208.48 135.65L208.54 134.15L208.58 133.00L208.84 133.00L208.84 133.26L209.11 133.26L209.11 133.53L209.11 133.53L209.06 134.68L209.01 136.18L208.96 137.67L208.90 139.17L208.85 140.66L208.79 142.15L208.74 143.65L208.68 145.14L208.64 146.18L208.38 146.18L208.38 145.92ZM208.81 126.93L208.81 126.68L208.81 126.68L208.86 125.20L208.91 123.70L208.92 123.51L209.17 123.51L209.17 123.76L209.43 123.76L209.43 124.01L209.43 124.01L209.42 124.21L209.37 125.70L209.32 127.18L209.06 127.18L209.06 126.93ZM209.15 117.42L209.15 117.18L209.15 117.18L209.20 115.74L209.24 114.25L209.29 112.75L209.34 111.26L209.39 109.76L209.44 108.27L209.49 106.77L209.54 105.27L209.56 104.50L209.80 104.50L209.80 104.74L210.04 104.74L210.04 104.98L210.04 104.98L210.02 105.76L209.97 107.25L209.92 108.75L209.87 110.24L209.82 111.74L209.78 113.23L209.73 114.73L209.68 116.22L209.63 117.66L209.39 117.66L209.39 117.42ZM209.77 98.39L209.77 98.16L209.77 98.16L209.81 96.81L209.86 95.31L209.87 94.99L210.10 94.99L210.10 95.22L210.33 95.22L210.33 95.45L210.33 95.45L210.32 95.77L210.27 97.26L210.23 98.62L210.00 98.62L210.00 98.39ZM210.07 88.87L210.07 88.65L210.07 88.65L210.11 87.33L210.15 85.84L210.20 84.34L210.24 82.84L210.28 81.34L210.33 79.84L210.37 78.34L210.41 76.85L210.44 75.94L210.66 75.94L210.66 76.16L210.88 76.16L210.88 76.38L210.88 76.38L210.85 77.28L210.81 78.78L210.76 80.28L210.72 81.78L210.68 83.28L210.63 84.78L210.59 86.27L210.55 87.77L210.51 89.09L210.29 89.09L210.29 88.87ZM210.63 69.81L210.63 69.60L210.63 69.60L210.66 68.36L210.70 66.86L210.71 66.42L210.92 66.42L210.92 66.63L211.13 66.63L211.13 66.83L211.13 66.83L211.12 67.28L211.08 68.78L211.04 70.01L210.83 70.01L210.83 69.81ZM210.89 60.27L210.89 60.07L210.89 60.07L210.93 58.86L210.97 57.36L211.00 55.86L211.04 54.36L211.08 52.86L211.12 51.35L211.16 49.85L211.20 48.35L211.22 47.34L211.42 47.34L211.42 47.54L211.62 47.54L211.62 47.74L211.62 47.74L211.60 48.75L211.56 50.25L211.52 51.75L211.48 53.25L211.44 54.76L211.40 56.26L211.36 57.76L211.32 59.26L211.29 60.47L211.09 60.47L211.09 60.27ZM211.39 41.17L211.39 40.98L211.39 40.98L211.42 39.83L211.46 38.33L211.47 37.80L211.66 37.80L211.66 37.99L211.85 37.99L211.85 38.18L211.85 38.18L211.84 38.71L211.80 40.22L211.77 41.36L211.58 41.36L211.58 41.17ZM211.63 31.62L211.63 31.44L211.63 31.44L211.66 30.31L211.69 28.80L211.73 27.29L211.77 25.79L211.78 25.32L211.96 25.32L211.96 25.50L212.15 25.50L212.15 25.68L212.15 25.68L212.13 26.15L212.10 27.66L212.06 29.17L212.03 30.67L212.00 31.81L211.82 31.81L211.82 31.62Z" fill="#006400" stroke="none"/>
<path d="M254.43 25.50L254.48 26.92L254.54 28.40L254.59 29.89L254.65 31.38L254.70 32.87L254.76 34.36L254.81 35.85L254.87 37.35L254.89 38.00M255.13 44.27L255.17 45.32L255.23 46.82L255.25 47.41M255.50 53.68L255.54 54.81L255.60 56.31L255.66 57.81L255.72 59.31L255.78 60.81L255.84 62.32L255.91 63.82L255.97 65.32L256.00 66.23M256.26 72.51L256.32 73.84L256.38 75.35L256.40 75.65M256.67 81.92L256.73 83.38L256.79 84.88L256.86 86.39L256.93 87.89L256.99 89.40L257.06 90.90L257.13 92.41L257.20 93.92L257.22 94.47M257.51 100.74L257.56 101.95L257.63 103.45L257.65 103.88M257.95 110.15L258.02 111.48L258.09 112.98L258.16 114.49L258.23 115.99L258.31 117.49L258.38 118.99L258.46 120.50L258.53 122.00L258.57 122.69M258.89 128.95L258.94 130.00L259.02 131.50L259.05 132.08M259.38 138.35L259.44 139.49L259.52 140.98L259.60 142.48L259.68 143.97L259.77 145.46L259.85 146.96L259.93 148.45L260.02 149.94L260.07 150.86M260.43 157.12L260.50 158.38L260.59 159.86L260.61 160.24M260.99 166.49L261.07 167.79L261.16 169.27L261.26 170.75L261.35 172.24L261.45 173.72L261.55 175.20L261.64 176.68L261.74 178.17L261.80 178.96M262.23 185.17L262.33 186.56L262.43 188.04L262.45 188.28M262.92 194.48L263.03 195.93L263.15 197.41L263.26 198.89L263.38 200.37L263.50 201.84L263.63 203.32L263.75 204.80L263.88 206.28L263.92 206.84M264.47 212.99L264.58 214.17L264.71 215.65L264.75 216.06M265.34 222.19L265.48 223.55L265.63 225.03L265.78 226.51L265.93 227.99L266.09 229.47L266.25 230.96L266.41 232.44L266.57 233.92L266.62 234.37M267.31 240.43L267.47 241.84L267.65 243.33L267.67 243.45M268.41 249.46L268.57 250.76L268.77 252.25L268.96 253.74L269.16 255.23L269.36 256.73L269.56 258.22L269.77 259.71L269.98 261.20L270.00 261.41M270.86 267.33L271.06 268.68L271.29 270.18L271.30 270.29M272.22 276.16L272.38 277.19L272.62 278.69L272.87 280.19L273.12 281.70L273.37 283.21L273.63 284.71L273.89 286.22L274.15 287.73L274.17 287.82M275.20 293.59L275.42 294.79L275.70 296.30L275.73 296.46M276.85 302.17L277.09 303.36L277.40 304.87L277.72 306.38L278.05 307.89L278.38 309.39L278.72 310.90L279.06 312.40L279.29 313.37M280.64 318.85L280.90 319.85L281.30 321.33L281.36 321.55M282.87 326.87L283.26 328.17L283.70 329.62L284.16 331.06L284.63 332.50L285.11 333.93L285.60 335.36L286.11 336.78L286.24 337.14M288.12 342.08L288.62 343.30L289.11 344.49M291.20 349.19L291.83 350.52L292.48 351.85L293.14 353.16L293.82 354.46L294.52 355.76L295.22 357.04L295.83 358.10M298.38 362.30L299.01 363.28L299.71 364.33M302.50 368.24L303.23 369.20L304.13 370.35L305.04 371.48L305.98 372.59L306.93 373.69L307.91 374.78L308.58 375.50M311.87 378.84L312.71 379.65L313.57 380.44M317.10 383.51L317.91 384.18L319.07 385.10L320.24 386.01L321.43 386.91L322.64 387.78L323.86 388.64L324.59 389.15M328.55 391.72L329.72 392.44L330.58 392.95M334.74 395.29L335.83 395.87L337.17 396.56L338.52 397.23L339.88 397.88L341.24 398.52L342.61 399.13L343.47 399.51M348.05 401.38L349.10 401.78L350.40 402.26M355.19 403.89L356.20 404.21L357.64 404.65L359.07 405.08L360.52 405.49L361.97 405.88L363.42 406.27L364.88 406.64L365.19 406.72M370.38 407.92L371.73 408.21L373.02 408.48M378.38 409.50L379.64 409.72L381.13 409.98L382.62 410.22L384.12 410.46L385.62 410.69L387.11 410.92L388.61 411.13L389.38 411.24M395.00 411.99L396.13 412.13L397.63 412.32L397.83 412.34M403.52 413.01L404.66 413.13L406.16 413.30L407.66 413.47L409.16 413.63L410.66 413.80L412.16 413.96L413.66 414.12L414.98 414.26M420.71 414.88L422.13 415.03L423.59 415.18M429.33 415.78L430.57 415.91L432.06 416.06L433.55 416.22L435.03 416.37L436.52 416.52L438.00 416.67L439.49 416.82L440.85 416.96M446.61 417.53L447.89 417.66L449.37 417.80L449.50 417.82M455.28 418.38L456.29 418.47L457.77 418.62L459.26 418.76L460.74 418.90L462.22 419.04L463.70 419.18L465.19 419.31L466.67 419.45L466.85 419.47M472.65 420.00L474.09 420.13L475.55 420.26M481.36 420.78L482.52 420.88L484.01 421.01L485.50 421.14L486.99 421.27L488.48 421.40L489.97 421.52L491.47 421.65L492.96 421.78L493.00 421.78M498.83 422.27L499.95 422.36L501.46 422.48L501.75 422.50M507.59 422.97L508.98 423.08L510.49 423.20L512.00 423.32L513.52 423.44L515.03 423.56L516.55 423.67L518.07 423.79L518.57 423.80" stroke="#006400"/>
<path d="M254.16 25.50L254.16 25.77L254.16 25.77L254.21 27.18L254.27 28.67L254.32 30.16L254.38 31.65L254.43 33.14L254.49 34.63L254.55 36.12L254.60 37.61L254.63 38.27L254.89 38.27L254.89 38.00L255.16 38.00L255.16 37.73L255.16 37.73L255.14 37.08L255.08 35.59L255.02 34.10L254.97 32.60L254.91 31.11L254.86 29.62L254.80 28.14L254.75 26.65L254.70 25.23L254.43 25.23L254.43 25.50ZM254.86 44.27L254.86 44.55L254.86 44.55L254.90 45.60L254.95 47.09L254.98 47.69L255.25 47.69L255.25 47.41L255.53 47.41L255.53 47.13L255.53 47.13L255.51 46.54L255.45 45.04L255.41 44.00L255.13 44.00L255.13 44.27ZM255.21 53.68L255.21 53.97L255.21 53.97L255.26 55.10L255.32 56.60L255.38 58.10L255.44 59.60L255.50 61.10L255.56 62.60L255.62 64.10L255.68 65.61L255.72 66.52L256.00 66.52L256.00 66.23L256.29 66.23L256.29 65.95L256.29 65.95L256.25 65.03L256.19 63.53L256.13 62.03L256.07 60.53L256.01 59.03L255.95 57.52L255.89 56.02L255.83 54.52L255.78 53.40L255.50 53.40L255.50 53.68ZM255.97 72.51L255.97 72.80L255.97 72.80L256.02 74.14L256.09 75.64L256.10 75.94L256.40 75.94L256.40 75.65L256.69 75.65L256.69 75.35L256.69 75.35L256.68 75.05L256.62 73.55L256.56 72.21L256.26 72.21L256.26 72.51ZM256.36 81.92L256.36 82.23L256.36 82.23L256.42 83.68L256.49 85.19L256.55 86.69L256.62 88.20L256.69 89.71L256.75 91.21L256.82 92.72L256.89 94.22L256.91 94.78L257.22 94.78L257.22 94.47L257.53 94.47L257.53 94.16L257.53 94.16L257.50 93.61L257.44 92.10L257.37 90.60L257.30 89.09L257.23 87.59L257.17 86.08L257.10 84.57L257.04 83.07L256.97 81.61L256.67 81.61L256.67 81.92ZM257.19 100.74L257.19 101.06L257.19 101.06L257.24 102.27L257.31 103.77L257.33 104.20L257.65 104.20L257.65 103.88L257.97 103.88L257.97 103.56L257.97 103.56L257.95 103.13L257.88 101.63L257.83 100.42L257.51 100.42L257.51 100.74ZM257.62 110.15L257.62 110.48L257.62 110.48L257.68 111.81L257.75 113.31L257.83 114.82L257.90 116.32L257.98 117.83L258.05 119.33L258.12 120.83L258.20 122.33L258.23 123.02L258.57 123.02L258.57 122.69L258.90 122.69L258.90 122.35L258.90 122.35L258.87 121.67L258.79 120.16L258.72 118.66L258.64 117.16L258.57 115.66L258.49 114.15L258.42 112.65L258.35 111.14L258.28 109.81L257.95 109.81L257.95 110.15ZM258.54 128.95L258.54 129.30L258.54 129.30L258.59 130.35L258.67 131.85L258.70 132.43L259.05 132.43L259.05 132.08L259.40 132.08L259.40 131.74L259.40 131.74L259.37 131.15L259.29 129.66L259.23 128.60L258.89 128.60L258.89 128.95ZM259.02 138.35L259.02 138.71L259.02 138.71L259.08 139.85L259.16 141.34L259.24 142.84L259.32 144.33L259.40 145.83L259.49 147.32L259.57 148.81L259.65 150.30L259.71 151.23L260.07 151.23L260.07 150.86L260.43 150.86L260.43 150.50L260.43 150.50L260.38 149.58L260.29 148.09L260.21 146.59L260.13 145.10L260.05 143.61L259.96 142.11L259.88 140.62L259.80 139.12L259.74 137.98L259.38 137.98L259.38 138.35ZM260.05 157.12L260.05 157.50L260.05 157.50L260.12 158.76L260.21 160.24L260.23 160.62L260.61 160.62L260.61 160.24L260.99 160.24L260.99 159.86L260.99 159.86L260.97 159.48L260.88 158.00L260.81 156.74L260.43 156.74L260.43 157.12ZM260.58 166.49L260.58 166.90L260.58 166.90L260.66 168.19L260.76 169.68L260.85 171.16L260.95 172.64L261.04 174.13L261.14 175.61L261.24 177.09L261.34 178.57L261.39 179.36L261.80 179.36L261.80 178.96L262.20 178.96L262.20 178.55L262.20 178.55L262.15 177.76L262.05 176.28L261.95 174.79L261.85 173.31L261.76 171.83L261.66 170.35L261.57 168.86L261.48 167.38L261.40 166.08L260.99 166.08L260.99 166.49ZM261.79 185.17L261.79 185.61L261.79 185.61L261.89 187.00L262.00 188.48L262.01 188.72L262.45 188.72L262.45 188.28L262.89 188.28L262.89 187.84L262.89 187.84L262.87 187.60L262.77 186.12L262.67 184.74L262.23 184.74L262.23 185.17ZM262.44 194.48L262.44 194.96L262.44 194.96L262.55 196.40L262.67 197.88L262.79 199.36L262.91 200.84L263.03 202.32L263.15 203.80L263.28 205.28L263.40 206.76L263.45 207.32L263.92 207.32L263.92 206.84L264.40 206.84L264.40 206.36L264.40 206.36L264.35 205.81L264.23 204.33L264.10 202.85L263.98 201.37L263.86 199.89L263.74 198.41L263.62 196.93L263.51 195.45L263.39 194.01L262.92 194.01L262.92 194.48ZM263.95 212.99L263.95 213.51L263.95 213.51L264.06 214.69L264.20 216.17L264.24 216.58L264.75 216.58L264.75 216.06L265.27 216.06L265.27 215.55L265.27 215.55L265.23 215.14L265.09 213.66L264.98 212.48L264.47 212.48L264.47 212.99ZM264.79 222.19L264.79 222.74L264.79 222.74L264.92 224.10L265.07 225.58L265.22 227.06L265.38 228.55L265.53 230.03L265.69 231.51L265.85 232.99L266.01 234.48L266.06 234.93L266.62 234.93L266.62 234.37L267.17 234.37L267.17 233.82L267.17 233.82L267.12 233.37L266.96 231.88L266.80 230.40L266.64 228.92L266.49 227.44L266.33 225.95L266.18 224.47L266.03 222.99L265.90 221.63L265.34 221.63L265.34 222.19ZM266.71 240.43L266.71 241.02L266.71 241.02L266.88 242.44L267.05 243.92L267.07 244.04L267.67 244.04L267.67 243.45L268.26 243.45L268.26 242.85L268.26 242.85L268.25 242.73L268.07 241.24L267.90 239.83L267.31 239.83L267.31 240.43ZM267.77 249.46L267.77 250.10L267.77 250.10L267.94 251.40L268.13 252.89L268.32 254.38L268.52 255.87L268.72 257.36L268.93 258.85L269.13 260.35L269.34 261.84L269.37 262.04L270.00 262.04L270.00 261.41L270.64 261.41L270.64 260.77L270.64 260.77L270.61 260.57L270.40 259.07L270.20 257.58L270.00 256.09L269.79 254.60L269.60 253.11L269.40 251.62L269.21 250.13L269.04 248.83L268.41 248.83L268.41 249.46ZM270.19 267.33L270.19 268.01L270.19 268.01L270.39 269.36L270.61 270.86L270.63 270.96L271.30 270.96L271.30 270.29L271.98 270.29L271.98 269.61L271.98 269.61L271.96 269.51L271.74 268.01L271.54 266.66L270.86 266.66L270.86 267.33ZM271.51 276.16L271.51 276.88L271.51 276.88L271.67 277.90L271.91 279.40L272.16 280.90L272.41 282.41L272.66 283.92L272.92 285.42L273.18 286.93L273.44 288.44L273.45 288.53L274.17 288.53L274.17 287.82L274.88 287.82L274.88 287.11L274.88 287.11L274.86 287.02L274.60 285.51L274.34 284.00L274.08 282.49L273.83 280.99L273.58 279.48L273.34 277.98L273.09 276.47L272.93 275.45L272.22 275.45L272.22 276.16ZM274.45 293.59L274.45 294.34L274.45 294.34L274.67 295.54L274.96 297.05L274.99 297.21L275.73 297.21L275.73 296.46L276.48 296.46L276.48 295.72L276.48 295.72L276.45 295.55L276.17 294.04L275.95 292.85L275.20 292.85L275.20 293.59ZM276.05 302.17L276.05 302.97L276.05 302.97L276.29 304.16L276.60 305.67L276.92 307.18L277.25 308.69L277.58 310.19L277.92 311.70L278.26 313.20L278.49 314.17L279.29 314.17L279.29 313.37L280.09 313.37L280.09 312.57L280.09 312.57L279.86 311.60L279.52 310.10L279.18 308.59L278.85 307.09L278.52 305.58L278.20 304.07L277.89 302.56L277.65 301.37L276.85 301.37L276.85 302.17ZM279.78 318.85L279.78 319.71L279.78 319.71L280.04 320.71L280.44 322.19L280.50 322.41L281.36 322.41L281.36 321.55L282.22 321.55L282.22 320.69L282.22 320.69L282.16 320.47L281.77 318.99L281.50 317.99L280.64 317.99L280.64 318.85ZM281.94 326.87L281.94 327.80L281.94 327.80L282.33 329.10L282.78 330.55L283.24 331.99L283.71 333.43L284.19 334.86L284.68 336.29L285.18 337.71L285.31 338.07L286.24 338.07L286.24 337.14L287.17 337.14L287.17 336.22L287.17 336.22L287.03 335.85L286.53 334.43L286.04 333.01L285.56 331.58L285.09 330.14L284.63 328.69L284.18 327.24L283.79 325.94L282.87 325.94L282.87 326.87ZM287.13 342.08L287.13 343.07L287.13 343.07L287.63 344.29L288.12 345.48L289.11 345.48L289.11 344.49L290.10 344.49L290.10 343.50L290.10 343.50L289.61 342.31L289.11 341.09L288.12 341.09L288.12 342.08ZM290.15 349.19L290.15 350.24L290.15 350.24L290.79 351.57L291.43 352.89L292.10 354.21L292.77 355.51L293.47 356.80L294.18 358.09L294.78 359.15L295.83 359.15L295.83 358.10L296.88 358.10L296.88 357.06L296.88 357.06L296.27 355.99L295.56 354.71L294.87 353.42L294.19 352.11L293.53 350.80L292.88 349.47L292.25 348.14L291.20 348.14L291.20 349.19ZM297.28 362.30L297.28 363.40L297.28 363.40L297.91 364.38L298.61 365.42L299.71 365.42L299.71 364.33L300.81 364.33L300.81 363.23L300.81 363.23L300.11 362.18L299.47 361.20L298.38 361.20L298.38 362.30ZM301.35 368.24L301.35 369.39L301.35 369.39L302.08 370.35L302.98 371.49L303.90 372.62L304.83 373.74L305.79 374.84L306.76 375.93L307.43 376.65L308.58 376.65L308.58 375.50L309.72 375.50L309.72 374.36L309.72 374.36L309.05 373.64L308.08 372.55L307.12 371.45L306.19 370.33L305.27 369.20L304.37 368.06L303.64 367.10L302.50 367.10L302.50 368.24ZM310.68 378.84L310.68 380.03L310.68 380.03L311.53 380.83L312.39 381.63L313.57 381.63L313.57 380.44L314.76 380.44L314.76 379.26L314.76 379.26L313.90 378.47L313.05 377.66L311.87 377.66L311.87 378.84ZM315.89 383.51L315.89 384.73L315.89 384.73L316.70 385.39L317.86 386.32L319.03 387.23L320.22 388.12L321.43 389.00L322.65 389.86L323.38 390.36L324.59 390.36L324.59 389.15L325.80 389.15L325.80 387.93L325.80 387.93L325.07 387.43L323.85 386.57L322.65 385.69L321.46 384.80L320.28 383.89L319.12 382.96L318.31 382.30L317.10 382.30L317.10 383.51ZM327.31 391.72L327.31 392.96L327.31 392.96L328.48 393.68L329.34 394.19L330.58 394.19L330.58 392.95L331.81 392.95L331.81 391.71L331.81 391.71L330.96 391.20L329.78 390.48L328.55 390.48L328.55 391.72ZM333.48 395.29L333.48 396.55L333.48 396.55L334.58 397.13L335.91 397.82L337.26 398.49L338.62 399.14L339.98 399.77L341.35 400.39L342.21 400.77L343.47 400.77L343.47 399.51L344.73 399.51L344.73 398.25L344.73 398.25L343.87 397.87L342.50 397.26L341.14 396.62L339.78 395.97L338.43 395.30L337.09 394.61L336.00 394.03L334.74 394.03L334.74 395.29ZM346.78 401.38L346.78 402.66L346.78 402.66L347.83 403.06L349.12 403.53L350.40 403.53L350.40 402.26L351.68 402.26L351.68 400.98L351.68 400.98L350.38 400.50L349.33 400.10L348.05 400.10L348.05 401.38ZM353.90 403.89L353.90 405.19L353.90 405.19L354.91 405.51L356.34 405.94L357.78 406.37L359.22 406.78L360.67 407.18L362.13 407.56L363.58 407.93L363.89 408.01L365.19 408.01L365.19 406.72L366.48 406.72L366.48 405.42L366.48 405.42L366.17 405.34L364.72 404.97L363.26 404.59L361.81 404.19L360.37 403.78L358.93 403.35L357.50 402.91L356.49 402.60L355.19 402.60L355.19 403.89ZM369.07 407.92L369.07 409.23L369.07 409.23L370.42 409.52L371.71 409.79L373.02 409.79L373.02 408.48L374.33 408.48L374.33 407.17L374.33 407.17L373.04 406.90L371.69 406.61L370.38 406.61L370.38 407.92ZM377.06 409.50L377.06 410.82L377.06 410.82L378.32 411.04L379.81 411.30L381.31 411.54L382.80 411.78L384.30 412.01L385.80 412.24L387.30 412.45L388.06 412.56L389.38 412.56L389.38 411.24L390.70 411.24L390.70 409.92L390.70 409.92L389.93 409.82L388.43 409.60L386.93 409.37L385.44 409.14L383.94 408.91L382.45 408.66L380.96 408.40L379.69 408.18L378.38 408.18L378.38 409.50ZM393.67 411.99L393.67 413.32L393.67 413.32L394.80 413.46L396.31 413.64L396.50 413.67L397.83 413.67L397.83 412.34L399.15 412.34L399.15 411.01L399.15 411.01L398.96 410.99L397.45 410.81L396.32 410.66L395.00 410.66L395.00 411.99ZM402.19 413.01L402.19 414.33L402.19 414.33L403.33 414.46L404.83 414.63L406.33 414.80L407.84 414.96L409.34 415.12L410.84 415.29L412.33 415.45L413.65 415.59L414.98 415.59L414.98 414.26L416.30 414.26L416.30 412.93L416.30 412.93L414.99 412.79L413.49 412.63L411.99 412.47L410.49 412.30L408.99 412.14L407.49 411.97L405.98 411.81L404.85 411.68L403.52 411.68L403.52 413.01ZM419.39 414.88L419.39 416.20L419.39 416.20L420.80 416.35L422.26 416.51L423.59 416.51L423.59 415.18L424.91 415.18L424.91 413.85L424.91 413.85L423.46 413.70L422.04 413.55L420.71 413.55L420.71 414.88ZM428.00 415.78L428.00 417.11L428.00 417.11L429.24 417.24L430.73 417.39L432.22 417.55L433.70 417.70L435.19 417.85L436.67 418.00L438.16 418.15L439.52 418.29L440.85 418.29L440.85 416.96L442.18 416.96L442.18 415.63L442.18 415.63L440.82 415.49L439.33 415.34L437.85 415.19L436.36 415.04L434.88 414.89L433.39 414.73L431.90 414.58L430.66 414.45L429.33 414.45L429.33 415.78ZM445.28 417.53L445.28 418.86L445.28 418.86L446.56 418.99L448.04 419.13L448.17 419.15L449.50 419.15L449.50 417.82L450.83 417.82L450.83 416.48L450.83 416.48L450.71 416.47L449.22 416.33L447.94 416.20L446.61 416.20L446.61 417.53ZM453.95 418.38L453.95 419.71L453.95 419.71L454.96 419.80L456.44 419.95L457.92 420.09L459.41 420.23L460.89 420.37L462.37 420.51L463.85 420.65L465.34 420.78L465.52 420.80L466.85 420.80L466.85 419.47L468.18 419.47L468.18 418.14L468.18 418.14L468.00 418.12L466.52 417.98L465.03 417.84L463.55 417.71L462.07 417.57L460.59 417.43L459.10 417.28L457.62 417.14L456.61 417.04L455.28 417.04L455.28 418.38ZM471.32 420.00L471.32 421.33L471.32 421.33L472.76 421.46L474.22 421.59L475.55 421.59L475.55 420.26L476.88 420.26L476.88 418.93L476.88 418.93L475.42 418.80L473.98 418.67L472.65 418.67L472.65 420.00ZM480.03 420.78L480.03 422.11L480.03 422.11L481.18 422.21L482.67 422.34L484.16 422.47L485.66 422.60L487.15 422.73L488.64 422.86L490.14 422.98L491.63 423.11L491.67 423.11L493.00 423.11L493.00 421.78L494.33 421.78L494.33 420.45L494.33 420.45L494.30 420.44L492.80 420.32L491.31 420.19L489.81 420.06L488.32 419.94L486.83 419.81L485.34 419.68L483.85 419.55L482.69 419.45L481.36 419.45L481.36 420.78ZM497.50 422.27L497.50 423.60L497.50 423.60L498.62 423.69L500.12 423.81L500.42 423.84L501.75 423.84L501.75 422.50L503.08 422.50L503.08 421.17L503.08 421.17L502.79 421.15L501.29 421.02L500.17 420.93L498.83 420.93L498.83 422.27ZM506.26 422.97L506.26 424.31L506.26 424.31L507.65 424.42L509.16 424.54L510.67 424.66L512.18 424.77L513.70 424.89L515.21 425.01L516.73 425.12L517.24 425.13L518.57 425.13L518.57 423.80L519.91 423.80L519.91 422.47L519.91 422.47L519.40 422.45L517.88 422.34L516.37 422.22L514.85 422.10L513.34 421.99L511.83 421.87L510.32 421.75L508.93 421.64L507.59 421.64L507.59 422.97Z" fill="#006400" stroke="none"/>
</g>
<g stroke="#000" fill="none" stroke-linecap="square"><path d="M100.15 25.50V423.80 M631.50 25.50V423.80 M100.15 25.50H631.50" stroke-width="2.8"/><path d="M100.15 423.80H631.50" stroke-width="2.4"/></g>
<path d="M557 41.4H613" stroke="#b900ff" stroke-width="2.7" fill="none" stroke-dasharray="19.2 6.4 3.2 6.4 3.2 6.4"/>
<path d="M557 64.4H613" stroke="#ff0000" stroke-width="2.7" fill="none" stroke-dasharray="6.4 6.4"/>
<path d="M557 87.4H613" stroke="#000" stroke-width="2.7" fill="none"/>
<path d="M557 110.4H613" stroke="#0000ff" stroke-width="2.7" fill="none" stroke-dasharray="3.2 6.4"/>
<path d="M557 133.4H613" stroke="#006400" stroke-width="2.7" fill="none" stroke-dasharray="12.8 6.4 3.2 6.4"/>
<text transform="translate(81.74 432.20) scale(0.9630 1)" font-size="22.40">0</text>
<text transform="translate(68.93 351.74) scale(0.9976 1)" font-size="22.40">20</text>
<text transform="translate(68.95 272.48) scale(0.9970 1)" font-size="22.40">40</text>
<text transform="translate(68.93 193.02) scale(0.9976 1)" font-size="22.40">60</text>
<text transform="translate(69.11 112.76) scale(0.9904 1)" font-size="22.40">80</text>
<text transform="translate(56.53 33.10) scale(0.9962 1)" font-size="22.40">100</text>
<text transform="translate(89.26 445.20) scale(1.0826 1)" font-size="22.40">-3</text>
<text transform="translate(165.16 445.20) scale(1.0928 1)" font-size="22.40">-2</text>
<text transform="translate(241.07 445.20) scale(1.0894 1)" font-size="22.40">-1</text>
<text transform="translate(325.40 445.20) scale(0.9723 1)" font-size="22.40">0</text>
<text transform="translate(401.57 445.20) scale(0.8980 1)" font-size="22.40">1</text>
<text transform="translate(476.94 445.20) scale(1.0204 1)" font-size="22.40">2</text>
<text transform="translate(553.17 445.20) scale(0.9774 1)" font-size="22.40">3</text>
<text transform="translate(629.44 445.20) scale(0.9194 1)" font-size="22.40">4</text>
<text transform="translate(455.89 49.15) scale(1.2255 1)" font-size="22.40">t</text>
<text transform="translate(463.51 53.85) scale(0.9945 1)" font-size="17.90">2</text>
<text transform="translate(474.79 49.15) scale(1.1355 1)" font-size="22.40">=</text>
<text transform="translate(490.42 49.15) scale(1.0678 1)" font-size="22.40">-0.10</text>
<text transform="translate(455.89 72.20) scale(1.2255 1)" font-size="22.40">t</text>
<text transform="translate(463.51 76.90) scale(0.9945 1)" font-size="17.90">2</text>
<text transform="translate(474.79 72.20) scale(1.1355 1)" font-size="22.40">=</text>
<text transform="translate(490.42 72.20) scale(1.0702 1)" font-size="22.40">-0.03</text>
<text transform="translate(458.19 95.25) scale(1.2255 1)" font-size="22.40">t</text>
<text transform="translate(465.81 99.95) scale(0.9945 1)" font-size="17.90">2</text>
<text transform="translate(477.09 95.25) scale(1.1355 1)" font-size="22.40">=</text>
<text transform="translate(499.47 95.25) scale(1.0423 1)" font-size="22.40">0.00</text>
<text transform="translate(458.19 118.30) scale(1.2255 1)" font-size="22.40">t</text>
<text transform="translate(465.81 123.00) scale(0.9945 1)" font-size="17.90">2</text>
<text transform="translate(477.09 118.30) scale(1.1355 1)" font-size="22.40">=</text>
<text transform="translate(499.46 118.30) scale(1.0451 1)" font-size="22.40">0.03</text>
<text transform="translate(458.19 141.35) scale(1.2255 1)" font-size="22.40">t</text>
<text transform="translate(465.81 146.05) scale(0.9945 1)" font-size="17.90">2</text>
<text transform="translate(477.09 141.35) scale(1.1355 1)" font-size="22.40">=</text>
<text transform="translate(499.47 141.35) scale(1.0423 1)" font-size="22.40">0.10</text>
<text transform="translate(155.05 93.50) scale(1.2311 1)" font-size="24.00">(b)</text>
<text transform="translate(335.39 469.30) scale(0.9240 1)" font-size="21.80">ω</text>
<text transform="translate(353.88 469.30) scale(1.2703 1)" font-size="21.80">+</text>
<text transform="translate(370.96 469.30) scale(1.1178 1)" font-size="21.80">μ</text>
<text transform="translate(385.05 474.90) scale(1.0256 1)" font-size="19.50">d</text>
<g transform="translate(42.2 247) rotate(-90)"><text transform="translate(9.56 0.00) scale(1.0008 1)" font-size="23.00">(</text><text transform="translate(19.82 1.10) scale(0.8509 1)" font-size="23.00">ω</text><text transform="translate(37.94 0.00) scale(0.9352 1)" font-size="23.00">)</text><path d="M3.5 0V-16.2M0.3 -0.95H6.7M0.3 -15.25H6.7" stroke="#000" stroke-width="1.9" fill="none"/></g>
</svg></body></html>
